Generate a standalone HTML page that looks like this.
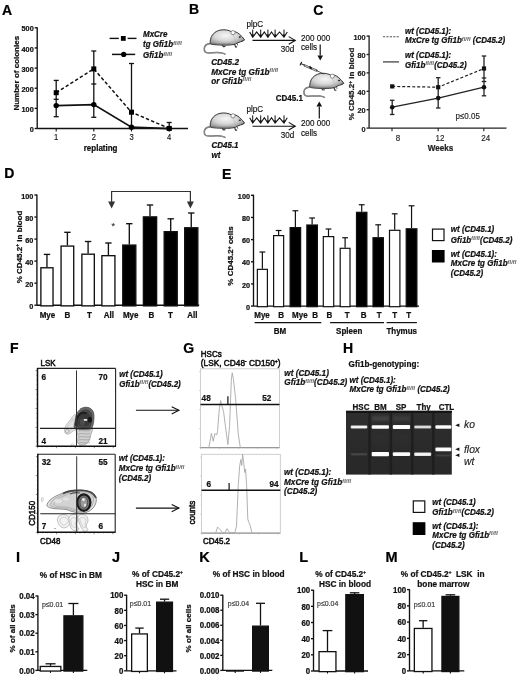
<!DOCTYPE html><html><head><meta charset="utf-8"><style>html,body{margin:0;padding:0;background:#fff;}svg{display:block;filter:blur(0.35px);}text{font-family:"Liberation Sans", sans-serif;}</style></head><body>
<svg width="520" height="678" viewBox="0 0 520 678">
<defs>
<radialGradient id="mg" cx="0.45" cy="0.38" r="0.65"><stop offset="0" stop-color="#f6f6f6"/><stop offset="0.5" stop-color="#d8d8d8"/><stop offset="1" stop-color="#8c8c8c"/></radialGradient>
<linearGradient id="gelg" x1="0" y1="0" x2="0" y2="1"><stop offset="0" stop-color="#2e2e2e"/><stop offset="1" stop-color="#282828"/></linearGradient>
<filter id="blur1" x="-20%" y="-150%" width="140%" height="400%"><feGaussianBlur stdDeviation="0.75"/></filter>
<filter id="blur2" x="-20%" y="-100%" width="140%" height="300%"><feGaussianBlur stdDeviation="1.2"/></filter>
<filter id="blur3"><feGaussianBlur stdDeviation="0.35"/></filter>
</defs>
<rect width="520" height="678" fill="#fff"/>
<text transform="translate(2.00,14.70) scale(1,1.0)" font-size="14" font-weight="bold" font-style="normal" text-anchor="start" fill="#000" stroke="#000" stroke-width="0.22" >A</text>
<text transform="translate(188.90,14.40) scale(1,1.0)" font-size="14" font-weight="bold" font-style="normal" text-anchor="start" fill="#000" stroke="#000" stroke-width="0.22" >B</text>
<text transform="translate(313.30,14.70) scale(1,1.0)" font-size="14" font-weight="bold" font-style="normal" text-anchor="start" fill="#000" stroke="#000" stroke-width="0.22" >C</text>
<text transform="translate(4.20,178.20) scale(1,1.0)" font-size="14" font-weight="bold" font-style="normal" text-anchor="start" fill="#000" stroke="#000" stroke-width="0.22" >D</text>
<text transform="translate(222.10,179.00) scale(1,1.0)" font-size="14" font-weight="bold" font-style="normal" text-anchor="start" fill="#000" stroke="#000" stroke-width="0.22" >E</text>
<text transform="translate(10.00,353.20) scale(1,1.0)" font-size="14" font-weight="bold" font-style="normal" text-anchor="start" fill="#000" stroke="#000" stroke-width="0.22" >F</text>
<text transform="translate(183.30,353.30) scale(1,1.0)" font-size="14" font-weight="bold" font-style="normal" text-anchor="start" fill="#000" stroke="#000" stroke-width="0.22" >G</text>
<text transform="translate(342.90,352.90) scale(1,1.0)" font-size="14" font-weight="bold" font-style="normal" text-anchor="start" fill="#000" stroke="#000" stroke-width="0.22" >H</text>
<text transform="translate(16.10,561.70) scale(1,1.0)" font-size="14.5" font-weight="bold" font-style="normal" text-anchor="start" fill="#000" stroke="#000" stroke-width="0.22" >I</text>
<text transform="translate(111.90,561.70) scale(1,1.0)" font-size="14.5" font-weight="bold" font-style="normal" text-anchor="start" fill="#000" stroke="#000" stroke-width="0.22" >J</text>
<text transform="translate(199.20,561.80) scale(1,1.0)" font-size="14.5" font-weight="bold" font-style="normal" text-anchor="start" fill="#000" stroke="#000" stroke-width="0.22" >K</text>
<text transform="translate(299.30,561.80) scale(1,1.0)" font-size="14.5" font-weight="bold" font-style="normal" text-anchor="start" fill="#000" stroke="#000" stroke-width="0.22" >L</text>
<text transform="translate(385.60,562.00) scale(1,1.0)" font-size="14.5" font-weight="bold" font-style="normal" text-anchor="start" fill="#000" stroke="#000" stroke-width="0.22" >M</text>
<line x1="37.20" y1="128.50" x2="37.20" y2="27.20" stroke="#111" stroke-width="1.35" />
<line x1="34.70" y1="128.50" x2="37.20" y2="128.50" stroke="#111" stroke-width="1.35" />
<text transform="translate(33.70,132.09) scale(1,1.1)" font-size="7.3" font-weight="bold" font-style="normal" text-anchor="end" fill="#111" stroke="#111" stroke-width="0.22" >0</text>
<line x1="34.70" y1="108.36" x2="37.20" y2="108.36" stroke="#111" stroke-width="1.35" />
<text transform="translate(33.70,111.95) scale(1,1.1)" font-size="7.3" font-weight="bold" font-style="normal" text-anchor="end" fill="#111" stroke="#111" stroke-width="0.22" >100</text>
<line x1="34.70" y1="88.22" x2="37.20" y2="88.22" stroke="#111" stroke-width="1.35" />
<text transform="translate(33.70,91.81) scale(1,1.1)" font-size="7.3" font-weight="bold" font-style="normal" text-anchor="end" fill="#111" stroke="#111" stroke-width="0.22" >200</text>
<line x1="34.70" y1="68.08" x2="37.20" y2="68.08" stroke="#111" stroke-width="1.35" />
<text transform="translate(33.70,71.67) scale(1,1.1)" font-size="7.3" font-weight="bold" font-style="normal" text-anchor="end" fill="#111" stroke="#111" stroke-width="0.22" >300</text>
<line x1="34.70" y1="47.94" x2="37.20" y2="47.94" stroke="#111" stroke-width="1.35" />
<text transform="translate(33.70,51.53) scale(1,1.1)" font-size="7.3" font-weight="bold" font-style="normal" text-anchor="end" fill="#111" stroke="#111" stroke-width="0.22" >400</text>
<line x1="34.70" y1="27.80" x2="37.20" y2="27.80" stroke="#111" stroke-width="1.35" />
<text transform="translate(33.70,31.39) scale(1,1.1)" font-size="7.3" font-weight="bold" font-style="normal" text-anchor="end" fill="#111" stroke="#111" stroke-width="0.22" >500</text>
<line x1="37.20" y1="128.50" x2="188.00" y2="128.50" stroke="#111" stroke-width="1.35" />
<line x1="56.20" y1="128.50" x2="56.20" y2="131.50" stroke="#111" stroke-width="1.1" />
<text transform="translate(56.20,139.60) scale(1,1.1)" font-size="7.6" font-weight="normal" font-style="normal" text-anchor="middle" fill="#111" stroke="#111" stroke-width="0.14" >1</text>
<line x1="93.80" y1="128.50" x2="93.80" y2="131.50" stroke="#111" stroke-width="1.1" />
<text transform="translate(93.80,139.60) scale(1,1.1)" font-size="7.6" font-weight="normal" font-style="normal" text-anchor="middle" fill="#111" stroke="#111" stroke-width="0.14" >2</text>
<line x1="131.50" y1="128.50" x2="131.50" y2="131.50" stroke="#111" stroke-width="1.1" />
<text transform="translate(131.50,139.60) scale(1,1.1)" font-size="7.6" font-weight="normal" font-style="normal" text-anchor="middle" fill="#111" stroke="#111" stroke-width="0.14" >3</text>
<line x1="169.20" y1="128.50" x2="169.20" y2="131.50" stroke="#111" stroke-width="1.1" />
<text transform="translate(169.20,139.60) scale(1,1.1)" font-size="7.6" font-weight="normal" font-style="normal" text-anchor="middle" fill="#111" stroke="#111" stroke-width="0.14" >4</text>
<text transform="translate(100.60,150.50) scale(1,1.1)" font-size="8" font-weight="bold" font-style="normal" text-anchor="middle" fill="#111" stroke="#111" stroke-width="0.22" >replating</text>
<text transform="translate(19.00,73.20) rotate(-90) scale(1,1.0)" x="0" y="0" font-size="8" font-weight="bold" font-style="normal" text-anchor="middle" fill="#111" stroke="#111" stroke-width="0.22">Number of colonies</text>
<line x1="56.20" y1="80.40" x2="56.20" y2="116.70" stroke="#111" stroke-width="1.3" />
<line x1="53.70" y1="80.40" x2="58.70" y2="80.40" stroke="#111" stroke-width="1.3" />
<line x1="53.70" y1="99.30" x2="58.70" y2="99.30" stroke="#111" stroke-width="1.3" />
<line x1="53.70" y1="116.70" x2="58.70" y2="116.70" stroke="#111" stroke-width="1.3" />
<line x1="93.80" y1="51.00" x2="93.80" y2="117.30" stroke="#111" stroke-width="1.3" />
<line x1="91.30" y1="51.00" x2="96.30" y2="51.00" stroke="#111" stroke-width="1.3" />
<line x1="91.30" y1="84.00" x2="96.30" y2="84.00" stroke="#111" stroke-width="1.3" />
<line x1="91.30" y1="117.30" x2="96.30" y2="117.30" stroke="#111" stroke-width="1.3" />
<line x1="131.50" y1="63.50" x2="131.50" y2="128.70" stroke="#111" stroke-width="1.3" />
<line x1="129.00" y1="63.50" x2="134.00" y2="63.50" stroke="#111" stroke-width="1.3" />
<line x1="169.20" y1="122.50" x2="169.20" y2="128.70" stroke="#111" stroke-width="1.3" />
<line x1="166.70" y1="122.50" x2="171.70" y2="122.50" stroke="#111" stroke-width="1.3" />
<path d="M56.2,92.7 L93.8,68.9 L131.5,112.2 L169.2,128.4" fill="none" stroke="#111" stroke-width="1.5" stroke-dasharray="3.4,2.2"/>
<rect x="53.70" y="90.20" width="5.00" height="5.00" fill="#000" stroke="none" stroke-width="0" />
<rect x="91.30" y="66.40" width="5.00" height="5.00" fill="#000" stroke="none" stroke-width="0" />
<rect x="129.00" y="109.70" width="5.00" height="5.00" fill="#000" stroke="none" stroke-width="0" />
<rect x="166.70" y="125.90" width="5.00" height="5.00" fill="#000" stroke="none" stroke-width="0" />
<path d="M56.2,105.6 L93.8,104.6 L131.5,127.2 L169.2,128.6" fill="none" stroke="#111" stroke-width="1.7" />
<circle cx="56.2" cy="105.6" r="2.7" fill="#000"/>
<circle cx="93.8" cy="104.6" r="2.7" fill="#000"/>
<circle cx="131.5" cy="127.2" r="2.7" fill="#000"/>
<circle cx="169.2" cy="128.6" r="2.7" fill="#000"/>
<line x1="109.60" y1="38.40" x2="118.80" y2="38.40" stroke="#111" stroke-width="1.4" />
<line x1="127.60" y1="38.40" x2="136.50" y2="38.40" stroke="#111" stroke-width="1.4" />
<rect x="120.90" y="36.00" width="4.80" height="4.80" fill="#000" stroke="none" stroke-width="0" />
<line x1="112.00" y1="54.40" x2="135.20" y2="54.40" stroke="#111" stroke-width="1.5" />
<circle cx="123.7" cy="54.4" r="2.6" fill="#000"/>
<text transform="translate(143.00,37.20) scale(1,1.1)" font-size="8" font-weight="bold" font-style="italic" text-anchor="start" fill="#111" stroke="#111" stroke-width="0.22" >MxCre</text>
<text transform="translate(143.00,47.00) scale(1,1.1)" font-size="8" font-weight="bold" font-style="italic" text-anchor="start" fill="#111" stroke="#111" stroke-width="0.22" >tg Gfi1b<tspan font-size="5.2" dy="-2.2" fill="#666" stroke="#777" stroke-width="0.15" letter-spacing="0.2">fl/fl</tspan></text>
<text transform="translate(143.00,58.20) scale(1,1.1)" font-size="8" font-weight="bold" font-style="italic" text-anchor="start" fill="#111" stroke="#111" stroke-width="0.22" >Gfi1b<tspan font-size="5.2" dy="-2.2" fill="#666" stroke="#777" stroke-width="0.15" letter-spacing="0.2">fl/fl</tspan></text>
<g transform="translate(200,22) scale(1.0)">
<path d="M10.6,21.6 C7,21.9 4.6,23.5 4.3,26.2 C4.1,29.2 5.4,30.9 8.3,30.9 C12,30.9 16.5,30.3 20.5,30.8 C22.6,31.1 24.2,31.6 25.5,32.4" fill="none" stroke="#5a5a5a" stroke-width="1.5"/>
<path d="M10.6,21.6 C7,21.9 4.6,23.5 4.3,26.2 C4.1,29.2 5.4,30.9 8.3,30.9 C12,30.9 16.5,30.3 20.5,30.8 C22.6,31.1 24.2,31.6 25.5,32.4" fill="none" stroke="#c8c8c8" stroke-width="0.5"/>
<path d="M10.2,21.5 C9.8,15.5 12.8,10.8 18.3,8.6 C21.5,7.5 26.2,7.4 29.6,8.8 L31.2,9.6 C34.2,8.9 37.2,10.1 39.6,12.3 C41.5,14 43.4,16 44.6,17.9 C43.6,18.9 42,19.4 40.4,19.8 C38.6,20.3 37,21.1 35.4,22.1 C32.8,22.9 28,23.3 23,23.1 C18,23 14.2,22.7 12.2,22.4 C11.1,22.1 10.5,21.9 10.2,21.5 Z" fill="url(#mg)" stroke="#262626" stroke-width="0.9"/>
<path d="M12,21.3 C16,22.4 24,22.6 31,22.0" fill="none" stroke="#777" stroke-width="1.6" opacity="0.6"/>
<path d="M11,18 C10.8,14 13,11 16,9.6" fill="none" stroke="#777" stroke-width="1.0" opacity="0.5"/>
<path d="M31.5,9.5 C33,12 34.5,16 35.6,21.5" fill="none" stroke="#aaa" stroke-width="0.6" opacity="0.7"/>
<circle cx="33" cy="10.6" r="2.1" fill="#fafafa" stroke="#555" stroke-width="0.6"/>
<ellipse cx="39.8" cy="15.1" rx="1.1" ry="0.8" fill="#222"/>
<path d="M22.2,23.2 l1.2,1.4 l2,-0.2" fill="none" stroke="#333" stroke-width="1.1"/>
<path d="M34.6,22.2 l0.9,2.7 l1.6,0" fill="none" stroke="#333" stroke-width="1.1"/>
<path d="M37.2,21.3 l0.6,2.2" fill="none" stroke="#444" stroke-width="0.8"/>
<path d="M43.9,18.5 l-2.2,0.2" stroke="#444" stroke-width="0.6"/>
</g>
<g transform="translate(200,105.2) scale(1.0)">
<path d="M10.6,21.6 C7,21.9 4.6,23.5 4.3,26.2 C4.1,29.2 5.4,30.9 8.3,30.9 C12,30.9 16.5,30.3 20.5,30.8 C22.6,31.1 24.2,31.6 25.5,32.4" fill="none" stroke="#5a5a5a" stroke-width="1.5"/>
<path d="M10.6,21.6 C7,21.9 4.6,23.5 4.3,26.2 C4.1,29.2 5.4,30.9 8.3,30.9 C12,30.9 16.5,30.3 20.5,30.8 C22.6,31.1 24.2,31.6 25.5,32.4" fill="none" stroke="#c8c8c8" stroke-width="0.5"/>
<path d="M10.2,21.5 C9.8,15.5 12.8,10.8 18.3,8.6 C21.5,7.5 26.2,7.4 29.6,8.8 L31.2,9.6 C34.2,8.9 37.2,10.1 39.6,12.3 C41.5,14 43.4,16 44.6,17.9 C43.6,18.9 42,19.4 40.4,19.8 C38.6,20.3 37,21.1 35.4,22.1 C32.8,22.9 28,23.3 23,23.1 C18,23 14.2,22.7 12.2,22.4 C11.1,22.1 10.5,21.9 10.2,21.5 Z" fill="url(#mg)" stroke="#262626" stroke-width="0.9"/>
<path d="M12,21.3 C16,22.4 24,22.6 31,22.0" fill="none" stroke="#777" stroke-width="1.6" opacity="0.6"/>
<path d="M11,18 C10.8,14 13,11 16,9.6" fill="none" stroke="#777" stroke-width="1.0" opacity="0.5"/>
<path d="M31.5,9.5 C33,12 34.5,16 35.6,21.5" fill="none" stroke="#aaa" stroke-width="0.6" opacity="0.7"/>
<circle cx="33" cy="10.6" r="2.1" fill="#fafafa" stroke="#555" stroke-width="0.6"/>
<ellipse cx="39.8" cy="15.1" rx="1.1" ry="0.8" fill="#222"/>
<path d="M22.2,23.2 l1.2,1.4 l2,-0.2" fill="none" stroke="#333" stroke-width="1.1"/>
<path d="M34.6,22.2 l0.9,2.7 l1.6,0" fill="none" stroke="#333" stroke-width="1.1"/>
<path d="M37.2,21.3 l0.6,2.2" fill="none" stroke="#444" stroke-width="0.8"/>
<path d="M43.9,18.5 l-2.2,0.2" stroke="#444" stroke-width="0.6"/>
</g>
<g transform="translate(299.7,65.6) scale(0.99)">
<path d="M10.6,21.6 C7,21.9 4.6,23.5 4.3,26.2 C4.1,29.2 5.4,30.9 8.3,30.9 C12,30.9 16.5,30.3 20.5,30.8 C22.6,31.1 24.2,31.6 25.5,32.4" fill="none" stroke="#5a5a5a" stroke-width="1.5"/>
<path d="M10.6,21.6 C7,21.9 4.6,23.5 4.3,26.2 C4.1,29.2 5.4,30.9 8.3,30.9 C12,30.9 16.5,30.3 20.5,30.8 C22.6,31.1 24.2,31.6 25.5,32.4" fill="none" stroke="#c8c8c8" stroke-width="0.5"/>
<path d="M10.2,21.5 C9.8,15.5 12.8,10.8 18.3,8.6 C21.5,7.5 26.2,7.4 29.6,8.8 L31.2,9.6 C34.2,8.9 37.2,10.1 39.6,12.3 C41.5,14 43.4,16 44.6,17.9 C43.6,18.9 42,19.4 40.4,19.8 C38.6,20.3 37,21.1 35.4,22.1 C32.8,22.9 28,23.3 23,23.1 C18,23 14.2,22.7 12.2,22.4 C11.1,22.1 10.5,21.9 10.2,21.5 Z" fill="url(#mg)" stroke="#262626" stroke-width="0.9"/>
<path d="M12,21.3 C16,22.4 24,22.6 31,22.0" fill="none" stroke="#777" stroke-width="1.6" opacity="0.6"/>
<path d="M11,18 C10.8,14 13,11 16,9.6" fill="none" stroke="#777" stroke-width="1.0" opacity="0.5"/>
<path d="M31.5,9.5 C33,12 34.5,16 35.6,21.5" fill="none" stroke="#aaa" stroke-width="0.6" opacity="0.7"/>
<circle cx="33" cy="10.6" r="2.1" fill="#fafafa" stroke="#555" stroke-width="0.6"/>
<ellipse cx="39.8" cy="15.1" rx="1.1" ry="0.8" fill="#222"/>
<path d="M22.2,23.2 l1.2,1.4 l2,-0.2" fill="none" stroke="#333" stroke-width="1.1"/>
<path d="M34.6,22.2 l0.9,2.7 l1.6,0" fill="none" stroke="#333" stroke-width="1.1"/>
<path d="M37.2,21.3 l0.6,2.2" fill="none" stroke="#444" stroke-width="0.8"/>
<path d="M43.9,18.5 l-2.2,0.2" stroke="#444" stroke-width="0.6"/>
</g>
<g stroke-linecap="round">
<line x1="300.80" y1="63.60" x2="305.00" y2="65.40" stroke="#222" stroke-width="1.0" />
<line x1="301.60" y1="62.20" x2="300.20" y2="65.00" stroke="#222" stroke-width="1.1" />
<line x1="304.60" y1="65.40" x2="316.50" y2="70.60" stroke="#444" stroke-width="2.2" />
<line x1="305.20" y1="65.70" x2="315.90" y2="70.30" stroke="#ddd" stroke-width="0.9" />
<line x1="310.00" y1="67.00" x2="311.00" y2="68.20" stroke="#111" stroke-width="1.8" />
<line x1="316.50" y1="70.60" x2="323.80" y2="73.90" stroke="#333" stroke-width="0.8" />
</g>
<text transform="translate(211.20,64.80) scale(1,1.1)" font-size="8.2" font-weight="bold" font-style="italic" text-anchor="start" fill="#111" stroke="#111" stroke-width="0.22" >CD45.2</text>
<text transform="translate(211.20,74.60) scale(1,1.1)" font-size="8.2" font-weight="bold" font-style="italic" text-anchor="start" fill="#111" stroke="#111" stroke-width="0.22" >MxCre tg Gfi1b<tspan font-size="5.2" dy="-2.2" fill="#666" stroke="#777" stroke-width="0.15" letter-spacing="0.2">fl/fl</tspan></text>
<text transform="translate(211.20,83.70) scale(1,1.1)" font-size="8.2" font-weight="bold" font-style="italic" text-anchor="start" fill="#111" stroke="#111" stroke-width="0.22" >or Gfi1b<tspan font-size="5.2" dy="-2.2" fill="#666" stroke="#777" stroke-width="0.15" letter-spacing="0.2">fl/fl</tspan></text>
<text transform="translate(211.50,147.70) scale(1,1.1)" font-size="8" font-weight="bold" font-style="italic" text-anchor="start" fill="#111" stroke="#111" stroke-width="0.22" >CD45.1</text>
<text transform="translate(211.50,157.80) scale(1,1.1)" font-size="8" font-weight="bold" font-style="italic" text-anchor="start" fill="#111" stroke="#111" stroke-width="0.22" >wt</text>
<text transform="translate(246.40,26.60) scale(1,1.1)" font-size="8.1" font-weight="normal" font-style="normal" text-anchor="start" fill="#111" stroke="#111" stroke-width="0.14" >plpC</text>
<line x1="252.70" y1="29.60" x2="252.70" y2="36.20" stroke="#111" stroke-width="1.0" />
<path d="M251.20,34.60 L252.70,37.20 L254.20,34.60 Z" fill="#111" stroke="none" stroke-width="0" />
<line x1="260.70" y1="29.60" x2="260.70" y2="36.20" stroke="#111" stroke-width="1.0" />
<path d="M259.20,34.60 L260.70,37.20 L262.20,34.60 Z" fill="#111" stroke="none" stroke-width="0" />
<line x1="267.90" y1="29.60" x2="267.90" y2="36.20" stroke="#111" stroke-width="1.0" />
<path d="M266.40,34.60 L267.90,37.20 L269.40,34.60 Z" fill="#111" stroke="none" stroke-width="0" />
<line x1="275.10" y1="29.60" x2="275.10" y2="36.20" stroke="#111" stroke-width="1.0" />
<path d="M273.60,34.60 L275.10,37.20 L276.60,34.60 Z" fill="#111" stroke="none" stroke-width="0" />
<line x1="284.00" y1="29.60" x2="284.00" y2="36.20" stroke="#111" stroke-width="1.0" />
<path d="M282.50,34.60 L284.00,37.20 L285.50,34.60 Z" fill="#111" stroke="none" stroke-width="0" />
<path d="M249.70,32.00 L252.70,37.20 L256.70,32.00 L260.70,37.20 L264.30,32.00 L267.90,37.20 L271.50,32.00 L275.10,37.20 L279.55,32.00 L284.00,37.20 L287.30,32.00" fill="none" stroke="#111" stroke-width="1.1" stroke-linejoin="miter"/>
<line x1="252.50" y1="40.40" x2="295.20" y2="40.40" stroke="#111" stroke-width="1.1" />
<path d="M288.70,36.60 L295.20,40.40 L288.70,44.20" fill="none" stroke="#111" stroke-width="1.1" />
<text transform="translate(280.80,52.20) scale(1,1.12)" font-size="8.1" font-weight="normal" font-style="normal" text-anchor="start" fill="#111" stroke="#111" stroke-width="0.14" >30d</text>
<text transform="translate(301.00,40.60) scale(1,1.15)" font-size="8.1" font-weight="normal" font-style="normal" text-anchor="start" fill="#111" stroke="#111" stroke-width="0.14" >200 000</text>
<text transform="translate(301.00,50.40) scale(1,1.12)" font-size="8.1" font-weight="normal" font-style="normal" text-anchor="start" fill="#111" stroke="#111" stroke-width="0.14" >cells</text>
<text transform="translate(246.40,112.40) scale(1,1.1)" font-size="8.1" font-weight="normal" font-style="normal" text-anchor="start" fill="#111" stroke="#111" stroke-width="0.14" >plpC</text>
<line x1="252.70" y1="115.40" x2="252.70" y2="122.00" stroke="#111" stroke-width="1.0" />
<path d="M251.20,120.40 L252.70,123.00 L254.20,120.40 Z" fill="#111" stroke="none" stroke-width="0" />
<line x1="260.70" y1="115.40" x2="260.70" y2="122.00" stroke="#111" stroke-width="1.0" />
<path d="M259.20,120.40 L260.70,123.00 L262.20,120.40 Z" fill="#111" stroke="none" stroke-width="0" />
<line x1="267.90" y1="115.40" x2="267.90" y2="122.00" stroke="#111" stroke-width="1.0" />
<path d="M266.40,120.40 L267.90,123.00 L269.40,120.40 Z" fill="#111" stroke="none" stroke-width="0" />
<line x1="275.10" y1="115.40" x2="275.10" y2="122.00" stroke="#111" stroke-width="1.0" />
<path d="M273.60,120.40 L275.10,123.00 L276.60,120.40 Z" fill="#111" stroke="none" stroke-width="0" />
<line x1="284.00" y1="115.40" x2="284.00" y2="122.00" stroke="#111" stroke-width="1.0" />
<path d="M282.50,120.40 L284.00,123.00 L285.50,120.40 Z" fill="#111" stroke="none" stroke-width="0" />
<path d="M249.70,117.80 L252.70,123.00 L256.70,117.80 L260.70,123.00 L264.30,117.80 L267.90,123.00 L271.50,117.80 L275.10,123.00 L279.55,117.80 L284.00,123.00 L287.30,117.80" fill="none" stroke="#111" stroke-width="1.1" stroke-linejoin="miter"/>
<line x1="252.50" y1="126.20" x2="295.20" y2="126.20" stroke="#111" stroke-width="1.1" />
<path d="M288.70,122.40 L295.20,126.20 L288.70,130.00" fill="none" stroke="#111" stroke-width="1.1" />
<text transform="translate(280.80,138.00) scale(1,1.12)" font-size="8.1" font-weight="normal" font-style="normal" text-anchor="start" fill="#111" stroke="#111" stroke-width="0.14" >30d</text>
<text transform="translate(301.00,126.40) scale(1,1.15)" font-size="8.1" font-weight="normal" font-style="normal" text-anchor="start" fill="#111" stroke="#111" stroke-width="0.14" >200 000</text>
<text transform="translate(301.00,136.20) scale(1,1.12)" font-size="8.1" font-weight="normal" font-style="normal" text-anchor="start" fill="#111" stroke="#111" stroke-width="0.14" >cells</text>
<line x1="320.20" y1="44.60" x2="320.20" y2="55.60" stroke="#111" stroke-width="1.2" />
<path d="M317.40,55.60 L320.20,60.60 L323.00,55.60 Z" fill="#111" stroke="none" stroke-width="0" />
<line x1="319.30" y1="118.60" x2="319.30" y2="106.40" stroke="#111" stroke-width="1.2" />
<path d="M316.50,106.40 L319.30,101.40 L322.10,106.40 Z" fill="#111" stroke="none" stroke-width="0" />
<text transform="translate(275.80,100.60) scale(1,1.1)" font-size="8" font-weight="bold" font-style="normal" text-anchor="start" fill="#111" stroke="#111" stroke-width="0.22" >CD45.1</text>
<line x1="369.10" y1="128.10" x2="369.10" y2="35.50" stroke="#222" stroke-width="1.35" />
<line x1="366.60" y1="128.10" x2="369.10" y2="128.10" stroke="#222" stroke-width="1.35" />
<text transform="translate(365.60,131.69) scale(1,1.1)" font-size="7.3" font-weight="bold" font-style="normal" text-anchor="end" fill="#222" stroke="#222" stroke-width="0.22" >0</text>
<line x1="366.60" y1="109.70" x2="369.10" y2="109.70" stroke="#222" stroke-width="1.35" />
<text transform="translate(365.60,113.29) scale(1,1.1)" font-size="7.3" font-weight="bold" font-style="normal" text-anchor="end" fill="#222" stroke="#222" stroke-width="0.22" >20</text>
<line x1="366.60" y1="91.30" x2="369.10" y2="91.30" stroke="#222" stroke-width="1.35" />
<text transform="translate(365.60,94.89) scale(1,1.1)" font-size="7.3" font-weight="bold" font-style="normal" text-anchor="end" fill="#222" stroke="#222" stroke-width="0.22" >40</text>
<line x1="366.60" y1="72.90" x2="369.10" y2="72.90" stroke="#222" stroke-width="1.35" />
<text transform="translate(365.60,76.49) scale(1,1.1)" font-size="7.3" font-weight="bold" font-style="normal" text-anchor="end" fill="#222" stroke="#222" stroke-width="0.22" >60</text>
<line x1="366.60" y1="54.50" x2="369.10" y2="54.50" stroke="#222" stroke-width="1.35" />
<text transform="translate(365.60,58.09) scale(1,1.1)" font-size="7.3" font-weight="bold" font-style="normal" text-anchor="end" fill="#222" stroke="#222" stroke-width="0.22" >80</text>
<line x1="366.60" y1="36.10" x2="369.10" y2="36.10" stroke="#222" stroke-width="1.35" />
<text transform="translate(365.60,39.69) scale(1,1.1)" font-size="7.3" font-weight="bold" font-style="normal" text-anchor="end" fill="#222" stroke="#222" stroke-width="0.22" >100</text>
<line x1="369.10" y1="128.10" x2="506.50" y2="128.10" stroke="#222" stroke-width="1.35" />
<line x1="392.00" y1="128.10" x2="392.00" y2="131.20" stroke="#222" stroke-width="1.1" />
<text transform="translate(397.90,141.30) scale(1,1.05)" font-size="8" font-weight="normal" font-style="normal" text-anchor="middle" fill="#222" stroke="#222" stroke-width="0.14" >8</text>
<line x1="438.20" y1="128.10" x2="438.20" y2="131.20" stroke="#222" stroke-width="1.1" />
<text transform="translate(440.00,141.30) scale(1,1.05)" font-size="8" font-weight="normal" font-style="normal" text-anchor="middle" fill="#222" stroke="#222" stroke-width="0.14" >12</text>
<line x1="483.80" y1="128.10" x2="483.80" y2="131.20" stroke="#222" stroke-width="1.1" />
<text transform="translate(485.70,141.30) scale(1,1.05)" font-size="8" font-weight="normal" font-style="normal" text-anchor="middle" fill="#222" stroke="#222" stroke-width="0.14" >24</text>
<text transform="translate(440.40,150.60) scale(1,1.1)" font-size="8.1" font-weight="bold" font-style="normal" text-anchor="middle" fill="#222" stroke="#222" stroke-width="0.22" >Weeks</text>
<text transform="translate(354.3,83.9) rotate(-90) scale(1,1.0)" font-size="8" font-weight="bold" text-anchor="middle" fill="#222" stroke="#222" stroke-width="0.22">% CD45.2<tspan font-size="5" dy="-2.6">+</tspan><tspan dy="2.6"> in blood</tspan></text>
<line x1="392.20" y1="100.30" x2="392.20" y2="114.50" stroke="#222" stroke-width="1.3" />
<line x1="389.95" y1="100.30" x2="394.45" y2="100.30" stroke="#222" stroke-width="1.3" />
<line x1="389.95" y1="114.50" x2="394.45" y2="114.50" stroke="#222" stroke-width="1.3" />
<line x1="438.20" y1="77.70" x2="438.20" y2="108.00" stroke="#222" stroke-width="1.3" />
<line x1="435.95" y1="77.70" x2="440.45" y2="77.70" stroke="#222" stroke-width="1.3" />
<line x1="435.95" y1="108.00" x2="440.45" y2="108.00" stroke="#222" stroke-width="1.3" />
<line x1="484.00" y1="56.00" x2="484.00" y2="95.80" stroke="#222" stroke-width="1.3" />
<line x1="481.75" y1="56.00" x2="486.25" y2="56.00" stroke="#222" stroke-width="1.3" />
<line x1="481.75" y1="78.00" x2="486.25" y2="78.00" stroke="#222" stroke-width="1.3" />
<line x1="481.75" y1="81.50" x2="486.25" y2="81.50" stroke="#222" stroke-width="1.3" />
<line x1="481.75" y1="95.80" x2="486.25" y2="95.80" stroke="#222" stroke-width="1.3" />
<path d="M392.2,86.4 L438.2,87.2 L484.0,68.5" fill="none" stroke="#222" stroke-width="1.2" stroke-dasharray="3,2"/>
<rect x="390.10" y="84.30" width="4.20" height="4.20" fill="#111" stroke="none" stroke-width="0" />
<rect x="436.10" y="85.10" width="4.20" height="4.20" fill="#111" stroke="none" stroke-width="0" />
<rect x="481.90" y="66.40" width="4.20" height="4.20" fill="#111" stroke="none" stroke-width="0" />
<path d="M392.2,107.2 L438.2,98.1 L484.0,87.2" fill="none" stroke="#222" stroke-width="1.3" />
<circle cx="392.2" cy="107.2" r="2.3" fill="#111"/>
<circle cx="438.2" cy="98.1" r="2.3" fill="#111"/>
<circle cx="484.0" cy="87.2" r="2.3" fill="#111"/>
<text transform="translate(455.50,119.20) scale(1,1.1)" font-size="8" font-weight="normal" font-style="normal" text-anchor="start" fill="#222" stroke="#222" stroke-width="0.14" >p≤0.05</text>
<line x1="383.00" y1="36.70" x2="399.00" y2="36.70" stroke="#555" stroke-width="1.1" stroke-dasharray="2.2,1.2"/>
<line x1="383.00" y1="61.90" x2="399.00" y2="61.90" stroke="#444" stroke-width="1.3" />
<text transform="translate(405.00,33.80) scale(1,1.1)" font-size="8" font-weight="bold" font-style="italic" text-anchor="start" fill="#111" stroke="#111" stroke-width="0.22" >wt (CD45.1):</text>
<text transform="translate(405.00,43.40) scale(1,1.1)" font-size="8" font-weight="bold" font-style="italic" text-anchor="start" fill="#111" stroke="#111" stroke-width="0.22" >MxCre tg Gfi1b<tspan font-size="5.2" dy="-2.2" fill="#666" stroke="#777" stroke-width="0.15" letter-spacing="0.2">fl/fl</tspan><tspan dy="2.2"> (CD45.2)</tspan></text>
<text transform="translate(405.00,58.00) scale(1,1.1)" font-size="8" font-weight="bold" font-style="italic" text-anchor="start" fill="#111" stroke="#111" stroke-width="0.22" >wt (CD45.1):</text>
<text transform="translate(405.00,67.60) scale(1,1.1)" font-size="8" font-weight="bold" font-style="italic" text-anchor="start" fill="#111" stroke="#111" stroke-width="0.22" >Gfi1b<tspan font-size="5.2" dy="-2.2" fill="#666" stroke="#777" stroke-width="0.15" letter-spacing="0.2">fl/fl</tspan><tspan dy="2.2">(CD45.2)</tspan></text>
<line x1="36.90" y1="305.20" x2="36.90" y2="194.40" stroke="#111" stroke-width="1.35" />
<line x1="34.40" y1="305.20" x2="36.90" y2="305.20" stroke="#111" stroke-width="1.35" />
<text transform="translate(33.40,308.79) scale(1,1.1)" font-size="7.3" font-weight="bold" font-style="normal" text-anchor="end" fill="#111" stroke="#111" stroke-width="0.22" >0</text>
<line x1="34.40" y1="283.16" x2="36.90" y2="283.16" stroke="#111" stroke-width="1.35" />
<text transform="translate(33.40,286.75) scale(1,1.1)" font-size="7.3" font-weight="bold" font-style="normal" text-anchor="end" fill="#111" stroke="#111" stroke-width="0.22" >20</text>
<line x1="34.40" y1="261.12" x2="36.90" y2="261.12" stroke="#111" stroke-width="1.35" />
<text transform="translate(33.40,264.71) scale(1,1.1)" font-size="7.3" font-weight="bold" font-style="normal" text-anchor="end" fill="#111" stroke="#111" stroke-width="0.22" >40</text>
<line x1="34.40" y1="239.08" x2="36.90" y2="239.08" stroke="#111" stroke-width="1.35" />
<text transform="translate(33.40,242.67) scale(1,1.1)" font-size="7.3" font-weight="bold" font-style="normal" text-anchor="end" fill="#111" stroke="#111" stroke-width="0.22" >60</text>
<line x1="34.40" y1="217.04" x2="36.90" y2="217.04" stroke="#111" stroke-width="1.35" />
<text transform="translate(33.40,220.63) scale(1,1.1)" font-size="7.3" font-weight="bold" font-style="normal" text-anchor="end" fill="#111" stroke="#111" stroke-width="0.22" >80</text>
<line x1="34.40" y1="195.00" x2="36.90" y2="195.00" stroke="#111" stroke-width="1.35" />
<text transform="translate(33.40,198.59) scale(1,1.1)" font-size="7.3" font-weight="bold" font-style="normal" text-anchor="end" fill="#111" stroke="#111" stroke-width="0.22" >100</text>
<line x1="36.90" y1="305.20" x2="199.20" y2="305.20" stroke="#111" stroke-width="1.35" />
<line x1="46.95" y1="254.40" x2="46.95" y2="267.10" stroke="#111" stroke-width="1.35" />
<line x1="43.75" y1="254.40" x2="50.15" y2="254.40" stroke="#111" stroke-width="1.35" />
<rect x="40.88" y="267.78" width="12.15" height="38.10" fill="#fff" stroke="#111" stroke-width="1.35" />
<line x1="67.40" y1="232.30" x2="67.40" y2="245.40" stroke="#111" stroke-width="1.35" />
<line x1="64.20" y1="232.30" x2="70.60" y2="232.30" stroke="#111" stroke-width="1.35" />
<rect x="61.07" y="246.08" width="12.65" height="59.80" fill="#fff" stroke="#111" stroke-width="1.35" />
<line x1="88.10" y1="241.50" x2="88.10" y2="253.50" stroke="#111" stroke-width="1.35" />
<line x1="84.90" y1="241.50" x2="91.30" y2="241.50" stroke="#111" stroke-width="1.35" />
<rect x="81.88" y="254.18" width="12.45" height="51.70" fill="#fff" stroke="#111" stroke-width="1.35" />
<line x1="108.40" y1="243.00" x2="108.40" y2="255.00" stroke="#111" stroke-width="1.35" />
<line x1="105.20" y1="243.00" x2="111.60" y2="243.00" stroke="#111" stroke-width="1.35" />
<rect x="101.88" y="255.68" width="13.05" height="50.20" fill="#fff" stroke="#111" stroke-width="1.35" />
<line x1="129.30" y1="223.70" x2="129.30" y2="244.40" stroke="#111" stroke-width="1.35" />
<line x1="126.10" y1="223.70" x2="132.50" y2="223.70" stroke="#111" stroke-width="1.35" />
<rect x="122.77" y="245.08" width="13.05" height="60.80" fill="#000" stroke="#111" stroke-width="1.35" />
<line x1="150.00" y1="205.00" x2="150.00" y2="216.20" stroke="#111" stroke-width="1.35" />
<line x1="146.80" y1="205.00" x2="153.20" y2="205.00" stroke="#111" stroke-width="1.35" />
<rect x="143.38" y="216.88" width="13.25" height="89.00" fill="#000" stroke="#111" stroke-width="1.35" />
<line x1="170.70" y1="218.80" x2="170.70" y2="231.00" stroke="#111" stroke-width="1.35" />
<line x1="167.50" y1="218.80" x2="173.90" y2="218.80" stroke="#111" stroke-width="1.35" />
<rect x="164.18" y="231.68" width="13.05" height="74.20" fill="#000" stroke="#111" stroke-width="1.35" />
<line x1="191.25" y1="213.00" x2="191.25" y2="227.10" stroke="#111" stroke-width="1.35" />
<line x1="188.05" y1="213.00" x2="194.45" y2="213.00" stroke="#111" stroke-width="1.35" />
<rect x="184.68" y="227.78" width="13.15" height="78.10" fill="#000" stroke="#111" stroke-width="1.35" />
<text transform="translate(47.40,318.20) scale(1,1.12)" font-size="8" font-weight="bold" font-style="normal" text-anchor="middle" fill="#111" stroke="#111" stroke-width="0.22" >Mye</text>
<text transform="translate(67.50,318.20) scale(1,1.12)" font-size="8" font-weight="bold" font-style="normal" text-anchor="middle" fill="#111" stroke="#111" stroke-width="0.22" >B</text>
<text transform="translate(89.40,318.20) scale(1,1.12)" font-size="8" font-weight="bold" font-style="normal" text-anchor="middle" fill="#111" stroke="#111" stroke-width="0.22" >T</text>
<text transform="translate(108.80,318.20) scale(1,1.12)" font-size="8" font-weight="bold" font-style="normal" text-anchor="middle" fill="#111" stroke="#111" stroke-width="0.22" >All</text>
<text transform="translate(130.70,318.20) scale(1,1.12)" font-size="8" font-weight="bold" font-style="normal" text-anchor="middle" fill="#111" stroke="#111" stroke-width="0.22" >Mye</text>
<text transform="translate(151.50,318.20) scale(1,1.12)" font-size="8" font-weight="bold" font-style="normal" text-anchor="middle" fill="#111" stroke="#111" stroke-width="0.22" >B</text>
<text transform="translate(170.50,318.20) scale(1,1.12)" font-size="8" font-weight="bold" font-style="normal" text-anchor="middle" fill="#111" stroke="#111" stroke-width="0.22" >T</text>
<text transform="translate(192.40,318.20) scale(1,1.12)" font-size="8" font-weight="bold" font-style="normal" text-anchor="middle" fill="#111" stroke="#111" stroke-width="0.22" >All</text>
<text transform="translate(21.5,246.9) rotate(-90) scale(1,1.0)" font-size="8" font-weight="bold" text-anchor="middle" fill="#111" stroke="#111" stroke-width="0.22">% CD45.2<tspan font-size="5" dy="-2.6">+</tspan><tspan dy="2.6"> in blood</tspan></text>
<path d="M111.6,203 L111.6,191.5 L190.4,191.5 L190.4,203" fill="none" stroke="#333" stroke-width="1.2" />
<path d="M108.10,201.6 L111.60,208.4 L115.10,201.6 Z" fill="#333" stroke="none" stroke-width="0" />
<path d="M186.90,201.6 L190.40,208.4 L193.90,201.6 Z" fill="#333" stroke="none" stroke-width="0" />
<text transform="translate(113.20,228.60) scale(1,1.0)" font-size="9" font-weight="normal" font-style="normal" text-anchor="middle" fill="#333" stroke="#333" stroke-width="0.14" >*</text>
<line x1="253.50" y1="306.10" x2="253.50" y2="194.70" stroke="#111" stroke-width="1.35" />
<line x1="251.00" y1="306.10" x2="253.50" y2="306.10" stroke="#111" stroke-width="1.35" />
<text transform="translate(250.00,309.69) scale(1,1.1)" font-size="7.3" font-weight="bold" font-style="normal" text-anchor="end" fill="#111" stroke="#111" stroke-width="0.22" >0</text>
<line x1="251.00" y1="283.94" x2="253.50" y2="283.94" stroke="#111" stroke-width="1.35" />
<text transform="translate(250.00,287.53) scale(1,1.1)" font-size="7.3" font-weight="bold" font-style="normal" text-anchor="end" fill="#111" stroke="#111" stroke-width="0.22" >20</text>
<line x1="251.00" y1="261.78" x2="253.50" y2="261.78" stroke="#111" stroke-width="1.35" />
<text transform="translate(250.00,265.37) scale(1,1.1)" font-size="7.3" font-weight="bold" font-style="normal" text-anchor="end" fill="#111" stroke="#111" stroke-width="0.22" >40</text>
<line x1="251.00" y1="239.62" x2="253.50" y2="239.62" stroke="#111" stroke-width="1.35" />
<text transform="translate(250.00,243.21) scale(1,1.1)" font-size="7.3" font-weight="bold" font-style="normal" text-anchor="end" fill="#111" stroke="#111" stroke-width="0.22" >60</text>
<line x1="251.00" y1="217.46" x2="253.50" y2="217.46" stroke="#111" stroke-width="1.35" />
<text transform="translate(250.00,221.05) scale(1,1.1)" font-size="7.3" font-weight="bold" font-style="normal" text-anchor="end" fill="#111" stroke="#111" stroke-width="0.22" >80</text>
<line x1="251.00" y1="195.30" x2="253.50" y2="195.30" stroke="#111" stroke-width="1.35" />
<text transform="translate(250.00,198.89) scale(1,1.1)" font-size="7.3" font-weight="bold" font-style="normal" text-anchor="end" fill="#111" stroke="#111" stroke-width="0.22" >100</text>
<line x1="253.50" y1="306.10" x2="419.00" y2="306.10" stroke="#111" stroke-width="1.35" />
<line x1="262.38" y1="252.00" x2="262.38" y2="268.75" stroke="#111" stroke-width="1.2" />
<line x1="259.48" y1="252.00" x2="265.27" y2="252.00" stroke="#111" stroke-width="1.2" />
<rect x="257.35" y="269.35" width="10.05" height="37.35" fill="#fff" stroke="#111" stroke-width="1.2" />
<line x1="278.62" y1="230.50" x2="278.62" y2="235.00" stroke="#111" stroke-width="1.2" />
<line x1="275.73" y1="230.50" x2="281.52" y2="230.50" stroke="#111" stroke-width="1.2" />
<rect x="273.60" y="235.60" width="10.05" height="71.10" fill="#fff" stroke="#111" stroke-width="1.2" />
<line x1="295.38" y1="210.75" x2="295.38" y2="227.00" stroke="#111" stroke-width="1.2" />
<line x1="292.48" y1="210.75" x2="298.27" y2="210.75" stroke="#111" stroke-width="1.2" />
<rect x="290.10" y="227.60" width="10.55" height="79.10" fill="#000" stroke="#111" stroke-width="1.2" />
<line x1="312.12" y1="218.00" x2="312.12" y2="224.40" stroke="#111" stroke-width="1.2" />
<line x1="309.23" y1="218.00" x2="315.02" y2="218.00" stroke="#111" stroke-width="1.2" />
<rect x="306.85" y="225.00" width="10.55" height="81.70" fill="#000" stroke="#111" stroke-width="1.2" />
<line x1="328.50" y1="229.00" x2="328.50" y2="236.00" stroke="#111" stroke-width="1.2" />
<line x1="325.60" y1="229.00" x2="331.40" y2="229.00" stroke="#111" stroke-width="1.2" />
<rect x="323.30" y="236.60" width="10.40" height="70.10" fill="#fff" stroke="#111" stroke-width="1.2" />
<line x1="345.10" y1="237.75" x2="345.10" y2="247.70" stroke="#111" stroke-width="1.2" />
<line x1="342.20" y1="237.75" x2="348.00" y2="237.75" stroke="#111" stroke-width="1.2" />
<rect x="340.20" y="248.30" width="9.80" height="58.40" fill="#fff" stroke="#111" stroke-width="1.2" />
<line x1="361.70" y1="204.75" x2="361.70" y2="211.70" stroke="#111" stroke-width="1.2" />
<line x1="358.80" y1="204.75" x2="364.60" y2="204.75" stroke="#111" stroke-width="1.2" />
<rect x="356.50" y="212.30" width="10.40" height="94.40" fill="#000" stroke="#111" stroke-width="1.2" />
<line x1="378.20" y1="224.80" x2="378.20" y2="237.10" stroke="#111" stroke-width="1.2" />
<line x1="375.30" y1="224.80" x2="381.10" y2="224.80" stroke="#111" stroke-width="1.2" />
<rect x="373.00" y="237.70" width="10.40" height="69.00" fill="#000" stroke="#111" stroke-width="1.2" />
<line x1="394.70" y1="213.80" x2="394.70" y2="229.70" stroke="#111" stroke-width="1.2" />
<line x1="391.80" y1="213.80" x2="397.60" y2="213.80" stroke="#111" stroke-width="1.2" />
<rect x="389.50" y="230.30" width="10.40" height="76.40" fill="#fff" stroke="#111" stroke-width="1.2" />
<line x1="411.55" y1="205.80" x2="411.55" y2="228.20" stroke="#111" stroke-width="1.2" />
<line x1="408.65" y1="205.80" x2="414.45" y2="205.80" stroke="#111" stroke-width="1.2" />
<rect x="406.20" y="228.80" width="10.70" height="77.90" fill="#000" stroke="#111" stroke-width="1.2" />
<text transform="translate(262.00,318.20) scale(1,1.12)" font-size="8" font-weight="bold" font-style="normal" text-anchor="middle" fill="#111" stroke="#111" stroke-width="0.22" >Mye</text>
<text transform="translate(281.10,318.20) scale(1,1.12)" font-size="8" font-weight="bold" font-style="normal" text-anchor="middle" fill="#111" stroke="#111" stroke-width="0.22" >B</text>
<text transform="translate(299.80,318.20) scale(1,1.12)" font-size="8" font-weight="bold" font-style="normal" text-anchor="middle" fill="#111" stroke="#111" stroke-width="0.22" >Mye</text>
<text transform="translate(315.20,318.20) scale(1,1.12)" font-size="8" font-weight="bold" font-style="normal" text-anchor="middle" fill="#111" stroke="#111" stroke-width="0.22" >B</text>
<text transform="translate(329.30,318.20) scale(1,1.12)" font-size="8" font-weight="bold" font-style="normal" text-anchor="middle" fill="#111" stroke="#111" stroke-width="0.22" >B</text>
<text transform="translate(347.30,318.20) scale(1,1.12)" font-size="8" font-weight="bold" font-style="normal" text-anchor="middle" fill="#111" stroke="#111" stroke-width="0.22" >T</text>
<text transform="translate(363.60,318.20) scale(1,1.12)" font-size="8" font-weight="bold" font-style="normal" text-anchor="middle" fill="#111" stroke="#111" stroke-width="0.22" >B</text>
<text transform="translate(379.10,318.20) scale(1,1.12)" font-size="8" font-weight="bold" font-style="normal" text-anchor="middle" fill="#111" stroke="#111" stroke-width="0.22" >T</text>
<text transform="translate(394.70,318.20) scale(1,1.12)" font-size="8" font-weight="bold" font-style="normal" text-anchor="middle" fill="#111" stroke="#111" stroke-width="0.22" >T</text>
<text transform="translate(408.70,318.20) scale(1,1.12)" font-size="8" font-weight="bold" font-style="normal" text-anchor="middle" fill="#111" stroke="#111" stroke-width="0.22" >T</text>
<line x1="254.60" y1="322.60" x2="321.30" y2="322.60" stroke="#111" stroke-width="1.2" />
<line x1="330.10" y1="322.60" x2="384.00" y2="322.60" stroke="#111" stroke-width="1.2" />
<line x1="386.60" y1="322.60" x2="416.90" y2="322.60" stroke="#111" stroke-width="1.2" />
<text transform="translate(279.90,334.30) scale(1,1.1)" font-size="8" font-weight="bold" font-style="normal" text-anchor="middle" fill="#111" stroke="#111" stroke-width="0.22" >BM</text>
<text transform="translate(349.20,334.30) scale(1,1.1)" font-size="8" font-weight="bold" font-style="normal" text-anchor="middle" fill="#111" stroke="#111" stroke-width="0.22" >Spleen</text>
<text transform="translate(401.70,334.30) scale(1,1.1)" font-size="8" font-weight="bold" font-style="normal" text-anchor="middle" fill="#111" stroke="#111" stroke-width="0.22" >Thymus</text>
<text transform="translate(233.4,256) rotate(-90) scale(1,1.0)" font-size="8" font-weight="bold" text-anchor="middle" fill="#111" stroke="#111" stroke-width="0.22">% CD45.2<tspan font-size="5" dy="-2.6">+</tspan><tspan dy="2.6"> cells</tspan></text>
<rect x="432.50" y="229.10" width="11.50" height="11.50" fill="#fff" stroke="#111" stroke-width="1.2" />
<rect x="431.90" y="250.00" width="12.70" height="12.50" fill="#000" stroke="none" stroke-width="0" />
<text transform="translate(450.80,232.40) scale(1,1.1)" font-size="8" font-weight="bold" font-style="italic" text-anchor="start" fill="#111" stroke="#111" stroke-width="0.22" >wt (CD45.1)</text>
<text transform="translate(450.80,242.80) scale(1,1.1)" font-size="8" font-weight="bold" font-style="italic" text-anchor="start" fill="#111" stroke="#111" stroke-width="0.22" >Gfi1b<tspan font-size="5.2" dy="-2.2" fill="#666" stroke="#777" stroke-width="0.15" letter-spacing="0.2">fl/fl</tspan><tspan dy="2.2">(CD45.2)</tspan></text>
<text transform="translate(450.80,256.80) scale(1,1.1)" font-size="8" font-weight="bold" font-style="italic" text-anchor="start" fill="#111" stroke="#111" stroke-width="0.22" >wt (CD45.1):</text>
<text transform="translate(450.80,266.40) scale(1,1.1)" font-size="8" font-weight="bold" font-style="italic" text-anchor="start" fill="#111" stroke="#111" stroke-width="0.22" >MxCre tg Gfi1b<tspan font-size="5.2" dy="-2.2" fill="#666" stroke="#777" stroke-width="0.15" letter-spacing="0.2">fl/fl</tspan></text>
<text transform="translate(450.80,275.60) scale(1,1.1)" font-size="8" font-weight="bold" font-style="italic" text-anchor="start" fill="#111" stroke="#111" stroke-width="0.22" >(CD45.2)</text>
<text transform="translate(40.60,365.60) scale(1,1.08)" font-size="8" font-weight="normal" font-style="normal" text-anchor="start" fill="#111" stroke="#111" stroke-width="0.5" >LSK</text>
<path d="M75.50,414.50 C74.67,413.00 72.42,417.42 71.00,419.00 C69.58,420.58 68.07,422.33 67.00,424.00 C65.93,425.67 64.85,427.42 64.60,429.00 C64.35,430.58 64.77,432.67 65.50,433.50 C66.23,434.33 67.75,434.42 69.00,434.00 C70.25,433.58 71.83,432.00 73.00,431.00 C74.17,430.00 75.58,430.75 76.00,428.00 C76.42,425.25 76.33,416.00 75.50,414.50 Z" fill="#e4e4e4" stroke="#a0a0a0" stroke-width="0.6"/>
<path d="M73.70,419.10 C73.20,418.20 71.85,420.85 71.00,421.80 C70.15,422.75 69.24,423.80 68.60,424.80 C67.96,425.80 67.31,426.85 67.16,427.80 C67.01,428.75 67.26,430.00 67.70,430.50 C68.14,431.00 69.05,431.05 69.80,430.80 C70.55,430.55 71.50,429.60 72.20,429.00 C72.90,428.40 73.75,428.85 74.00,427.20 C74.25,425.55 74.20,420.00 73.70,419.10 Z" fill="none" stroke="#b0b0b0" stroke-width="0.5"/>
<path d="M76.50,428.00 C74.25,429.33 77.83,433.67 78.00,436.00 C78.17,438.33 77.17,440.50 77.50,442.00 C77.83,443.50 78.75,444.58 80.00,445.00 C81.25,445.42 83.50,445.17 85.00,444.50 C86.50,443.83 88.03,442.58 89.00,441.00 C89.97,439.42 90.38,437.17 90.80,435.00 C91.22,432.83 93.88,429.17 91.50,428.00 C89.12,426.83 78.75,426.67 76.50,428.00 Z" fill="#d0d0d0" stroke="#8a8a8a" stroke-width="0.6"/>
<path d="M78.5,431 C82,429.8 86,431.8 90,430.5" fill="none" stroke="#8c8c8c" stroke-width="0.55"/>
<path d="M78.5,434 C82,432.8 86,434.8 90,433.5" fill="none" stroke="#8c8c8c" stroke-width="0.55"/>
<path d="M78.5,437 C82,435.8 86,437.8 90,436.5" fill="none" stroke="#8c8c8c" stroke-width="0.55"/>
<path d="M78.5,440 C82,438.8 86,440.8 90,439.5" fill="none" stroke="#8c8c8c" stroke-width="0.55"/>
<path d="M78.5,443 C82,441.8 86,443.8 90,442.5" fill="none" stroke="#8c8c8c" stroke-width="0.55"/>
<path d="M75.40,428.50 C72.93,427.17 75.02,423.33 75.20,421.00 C75.38,418.67 75.70,416.42 76.50,414.50 C77.30,412.58 78.58,410.70 80.00,409.50 C81.42,408.30 83.25,407.47 85.00,407.30 C86.75,407.13 89.07,407.55 90.50,408.50 C91.93,409.45 93.05,411.08 93.60,413.00 C94.15,414.92 93.98,417.75 93.80,420.00 C93.62,422.25 93.13,425.00 92.50,426.50 C91.87,428.00 92.85,428.67 90.00,429.00 C87.15,429.33 77.87,429.83 75.40,428.50 Z" fill="#6e6e6e" stroke="#444" stroke-width="0.8"/>
<path d="M77.12,426.80 C75.15,425.73 76.81,422.67 76.96,420.80 C77.11,418.93 77.36,417.13 78.00,415.60 C78.64,414.07 79.67,412.56 80.80,411.60 C81.93,410.64 83.40,409.97 84.80,409.84 C86.20,409.71 88.05,410.04 89.20,410.80 C90.35,411.56 91.24,412.87 91.68,414.40 C92.12,415.93 91.99,418.20 91.84,420.00 C91.69,421.80 91.31,424.00 90.80,425.20 C90.29,426.40 91.08,426.93 88.80,427.20 C86.52,427.47 79.09,427.87 77.12,426.80 Z" fill="#4a4a4a" stroke="#333" stroke-width="0.5"/>
<path d="M78.84,425.10 C77.36,424.30 78.61,422.00 78.72,420.60 C78.83,419.20 79.02,417.85 79.50,416.70 C79.98,415.55 80.75,414.42 81.60,413.70 C82.45,412.98 83.55,412.48 84.60,412.38 C85.65,412.28 87.04,412.53 87.90,413.10 C88.76,413.67 89.43,414.65 89.76,415.80 C90.09,416.95 89.99,418.65 89.88,420.00 C89.77,421.35 89.48,423.00 89.10,423.90 C88.72,424.80 89.31,425.20 87.60,425.40 C85.89,425.60 80.32,425.90 78.84,425.10 Z" fill="#383838" stroke="none"/>
<path d="M80,409.6 C84,407.8 89,408 92.5,411" fill="none" stroke="#666" stroke-width="1.6"/>
<path d="M76.4,426 C76,421 77,416 80.8,413.4 C82.5,412.6 84.5,412.6 86.5,413.2" fill="none" stroke="#1e1e1e" stroke-width="2.2"/>
<ellipse cx="90" cy="419.8" rx="2.0" ry="3.0" fill="#151515"/>
<ellipse cx="82.5" cy="422" rx="2.6" ry="3.2" fill="#555" opacity="0.7"/>
<rect x="83.8" y="418.9" width="3.4" height="1.9" rx="0.6" fill="#f0f0f0"/>
<circle cx="67.3" cy="431" r="1.9" fill="none" stroke="#999" stroke-width="0.6"/>
<circle cx="72.5" cy="445" r="1.3" fill="none" stroke="#aaa" stroke-width="0.5"/>
<line x1="35.50" y1="446.20" x2="37.50" y2="446.20" stroke="#444" stroke-width="0.6" />
<line x1="36.50" y1="441.48" x2="37.50" y2="441.48" stroke="#444" stroke-width="0.6" />
<line x1="36.50" y1="436.77" x2="37.50" y2="436.77" stroke="#444" stroke-width="0.6" />
<line x1="36.50" y1="432.05" x2="37.50" y2="432.05" stroke="#444" stroke-width="0.6" />
<line x1="35.50" y1="427.34" x2="37.50" y2="427.34" stroke="#444" stroke-width="0.6" />
<line x1="36.50" y1="422.62" x2="37.50" y2="422.62" stroke="#444" stroke-width="0.6" />
<line x1="36.50" y1="417.91" x2="37.50" y2="417.91" stroke="#444" stroke-width="0.6" />
<line x1="36.50" y1="413.19" x2="37.50" y2="413.19" stroke="#444" stroke-width="0.6" />
<line x1="35.50" y1="408.48" x2="37.50" y2="408.48" stroke="#444" stroke-width="0.6" />
<line x1="36.50" y1="403.76" x2="37.50" y2="403.76" stroke="#444" stroke-width="0.6" />
<line x1="36.50" y1="399.05" x2="37.50" y2="399.05" stroke="#444" stroke-width="0.6" />
<line x1="36.50" y1="394.33" x2="37.50" y2="394.33" stroke="#444" stroke-width="0.6" />
<line x1="35.50" y1="389.62" x2="37.50" y2="389.62" stroke="#444" stroke-width="0.6" />
<line x1="36.50" y1="384.90" x2="37.50" y2="384.90" stroke="#444" stroke-width="0.6" />
<line x1="36.50" y1="380.19" x2="37.50" y2="380.19" stroke="#444" stroke-width="0.6" />
<line x1="36.50" y1="375.47" x2="37.50" y2="375.47" stroke="#444" stroke-width="0.6" />
<line x1="35.50" y1="370.76" x2="37.50" y2="370.76" stroke="#444" stroke-width="0.6" />
<line x1="37.50" y1="446.20" x2="37.50" y2="448.20" stroke="#444" stroke-width="0.6" />
<line x1="42.23" y1="446.20" x2="42.23" y2="447.20" stroke="#444" stroke-width="0.6" />
<line x1="46.97" y1="446.20" x2="46.97" y2="447.20" stroke="#444" stroke-width="0.6" />
<line x1="51.70" y1="446.20" x2="51.70" y2="447.20" stroke="#444" stroke-width="0.6" />
<line x1="56.43" y1="446.20" x2="56.43" y2="448.20" stroke="#444" stroke-width="0.6" />
<line x1="61.17" y1="446.20" x2="61.17" y2="447.20" stroke="#444" stroke-width="0.6" />
<line x1="65.90" y1="446.20" x2="65.90" y2="447.20" stroke="#444" stroke-width="0.6" />
<line x1="70.63" y1="446.20" x2="70.63" y2="447.20" stroke="#444" stroke-width="0.6" />
<line x1="75.37" y1="446.20" x2="75.37" y2="448.20" stroke="#444" stroke-width="0.6" />
<line x1="80.10" y1="446.20" x2="80.10" y2="447.20" stroke="#444" stroke-width="0.6" />
<line x1="84.83" y1="446.20" x2="84.83" y2="447.20" stroke="#444" stroke-width="0.6" />
<line x1="89.57" y1="446.20" x2="89.57" y2="447.20" stroke="#444" stroke-width="0.6" />
<line x1="94.30" y1="446.20" x2="94.30" y2="448.20" stroke="#444" stroke-width="0.6" />
<line x1="99.03" y1="446.20" x2="99.03" y2="447.20" stroke="#444" stroke-width="0.6" />
<line x1="103.77" y1="446.20" x2="103.77" y2="447.20" stroke="#444" stroke-width="0.6" />
<line x1="108.50" y1="446.20" x2="108.50" y2="447.20" stroke="#444" stroke-width="0.6" />
<line x1="113.23" y1="446.20" x2="113.23" y2="448.20" stroke="#444" stroke-width="0.6" />
<line x1="37.50" y1="368.40" x2="115.60" y2="368.40" stroke="#222" stroke-width="1.1" />
<line x1="115.60" y1="368.40" x2="115.60" y2="446.20" stroke="#222" stroke-width="1.1" />
<line x1="37.50" y1="367.90" x2="37.50" y2="446.90" stroke="#111" stroke-width="1.5" />
<line x1="37.00" y1="446.20" x2="116.00" y2="446.20" stroke="#111" stroke-width="1.5" />
<line x1="76.50" y1="370.40" x2="76.50" y2="446.20" stroke="#333" stroke-width="1.0" />
<line x1="40.00" y1="428.40" x2="115.60" y2="428.40" stroke="#222" stroke-width="1.1" />
<text transform="translate(41.40,379.60) scale(1,1.1)" font-size="8.2" font-weight="bold" font-style="normal" text-anchor="start" fill="#111" stroke="#111" stroke-width="0.22" >6</text>
<text transform="translate(98.40,379.60) scale(1,1.1)" font-size="8.2" font-weight="bold" font-style="normal" text-anchor="start" fill="#111" stroke="#111" stroke-width="0.22" >70</text>
<text transform="translate(41.40,443.60) scale(1,1.1)" font-size="8.2" font-weight="bold" font-style="normal" text-anchor="start" fill="#111" stroke="#111" stroke-width="0.22" >4</text>
<text transform="translate(98.40,443.60) scale(1,1.1)" font-size="8.2" font-weight="bold" font-style="normal" text-anchor="start" fill="#111" stroke="#111" stroke-width="0.22" >21</text>
<path d="M57.50,521.00 C57.17,519.17 57.92,517.08 59.00,516.00 C60.08,514.92 62.50,514.42 64.00,514.50 C65.50,514.58 66.83,515.67 68.00,516.50 C69.17,517.33 70.67,518.25 71.00,519.50 C71.33,520.75 70.83,522.67 70.00,524.00 C69.17,525.33 67.50,527.00 66.00,527.50 C64.50,528.00 62.42,528.08 61.00,527.00 C59.58,525.92 57.83,522.83 57.50,521.00 Z" fill="#f2f2f2" stroke="#9a9a9a" stroke-width="0.6"/>
<path d="M60.10,521.00 C59.90,519.90 60.35,518.65 61.00,518.00 C61.65,517.35 63.10,517.05 64.00,517.10 C64.90,517.15 65.70,517.80 66.40,518.30 C67.10,518.80 68.00,519.35 68.20,520.10 C68.40,520.85 68.10,522.00 67.60,522.80 C67.10,523.60 66.10,524.60 65.20,524.90 C64.30,525.20 63.05,525.25 62.20,524.60 C61.35,523.95 60.30,522.10 60.10,521.00 Z" fill="none" stroke="#aaa" stroke-width="0.5"/>
<path d="M69.00,517.00 C69.58,515.58 71.67,514.75 73.00,514.50 C74.33,514.25 76.17,514.58 77.00,515.50 C77.83,516.42 78.17,518.42 78.00,520.00 C77.83,521.58 75.83,523.50 76.00,525.00 C76.17,526.50 79.17,528.00 79.00,529.00 C78.83,530.00 76.33,531.17 75.00,531.00 C73.67,530.83 71.92,529.33 71.00,528.00 C70.08,526.67 69.83,524.83 69.50,523.00 C69.17,521.17 68.42,518.42 69.00,517.00 Z" fill="#f2f2f2" stroke="#9a9a9a" stroke-width="0.6"/>
<path d="M70.80,519.00 C71.15,518.15 72.40,517.65 73.20,517.50 C74.00,517.35 75.10,517.55 75.60,518.10 C76.10,518.65 76.30,519.85 76.20,520.80 C76.10,521.75 74.90,522.90 75.00,523.80 C75.10,524.70 76.90,525.60 76.80,526.20 C76.70,526.80 75.20,527.50 74.40,527.40 C73.60,527.30 72.55,526.40 72.00,525.60 C71.45,524.80 71.30,523.70 71.10,522.60 C70.90,521.50 70.45,519.85 70.80,519.00 Z" fill="none" stroke="#aaa" stroke-width="0.5"/>
<path d="M78.00,516.00 C78.50,514.75 80.58,514.50 82.00,514.50 C83.42,514.50 85.50,514.92 86.50,516.00 C87.50,517.08 88.08,519.33 88.00,521.00 C87.92,522.67 86.00,524.50 86.00,526.00 C86.00,527.50 88.33,529.13 88.00,530.00 C87.67,530.87 85.17,531.70 84.00,531.20 C82.83,530.70 81.83,528.53 81.00,527.00 C80.17,525.47 79.50,523.83 79.00,522.00 C78.50,520.17 77.50,517.25 78.00,516.00 Z" fill="#f2f2f2" stroke="#9a9a9a" stroke-width="0.6"/>
<path d="M80.00,518.40 C80.30,517.65 81.55,517.50 82.40,517.50 C83.25,517.50 84.50,517.75 85.10,518.40 C85.70,519.05 86.05,520.40 86.00,521.40 C85.95,522.40 84.80,523.50 84.80,524.40 C84.80,525.30 86.20,526.28 86.00,526.80 C85.80,527.32 84.30,527.82 83.60,527.52 C82.90,527.22 82.30,525.92 81.80,525.00 C81.30,524.08 80.90,523.10 80.60,522.00 C80.30,520.90 79.70,519.15 80.00,518.40 Z" fill="none" stroke="#aaa" stroke-width="0.5"/>
<path d="M46.90,505.20 C46.98,503.95 48.48,501.53 50.00,500.00 C51.52,498.47 53.82,497.17 56.00,496.00 C58.18,494.83 61.10,493.83 63.10,493.00 C65.10,492.17 66.27,491.47 68.00,491.00 C69.73,490.53 71.33,490.33 73.50,490.20 C75.67,490.07 78.50,490.02 81.00,490.20 C83.50,490.38 86.42,490.75 88.50,491.30 C90.58,491.85 92.22,492.38 93.50,493.50 C94.78,494.62 95.87,496.25 96.20,498.00 C96.53,499.75 96.22,502.13 95.50,504.00 C94.78,505.87 93.48,507.78 91.90,509.20 C90.32,510.62 88.15,511.87 86.00,512.50 C83.85,513.13 81.33,513.17 79.00,513.00 C76.67,512.83 74.17,512.08 72.00,511.50 C69.83,510.92 68.00,509.92 66.00,509.50 C64.00,509.08 61.83,509.13 60.00,509.00 C58.17,508.87 56.75,508.95 55.00,508.70 C53.25,508.45 50.85,508.08 49.50,507.50 C48.15,506.92 46.82,506.45 46.90,505.20 Z" fill="#e2e2e2" stroke="#666" stroke-width="0.7"/>
<path d="M50.15,504.70 C50.23,503.60 51.55,501.47 52.88,500.12 C54.21,498.77 56.24,497.63 58.16,496.60 C60.08,495.57 62.65,494.69 64.41,493.96 C66.17,493.23 67.19,492.61 68.72,492.20 C70.25,491.79 71.65,491.61 73.56,491.50 C75.47,491.38 77.96,491.33 80.16,491.50 C82.36,491.66 84.93,491.98 86.76,492.46 C88.59,492.95 90.03,493.42 91.16,494.40 C92.29,495.38 93.24,496.82 93.54,498.36 C93.83,499.90 93.55,502.00 92.92,503.64 C92.29,505.28 91.15,506.97 89.75,508.22 C88.36,509.46 86.45,510.56 84.56,511.12 C82.67,511.68 80.45,511.71 78.40,511.56 C76.35,511.41 74.15,510.75 72.24,510.24 C70.33,509.73 68.72,508.85 66.96,508.48 C65.20,508.11 63.29,508.16 61.68,508.04 C60.07,507.92 58.82,508.00 57.28,507.78 C55.74,507.56 53.63,507.23 52.44,506.72 C51.25,506.21 50.08,505.80 50.15,504.70 Z" fill="#d2d2d2" stroke="#888" stroke-width="0.5"/>
<path d="M53.95,504.11 C54.01,503.18 55.12,501.39 56.24,500.26 C57.36,499.13 59.06,498.16 60.68,497.30 C62.30,496.44 64.45,495.70 65.93,495.08 C67.41,494.46 68.28,493.95 69.56,493.60 C70.84,493.25 72.03,493.11 73.63,493.01 C75.23,492.91 77.33,492.87 79.18,493.01 C81.03,493.14 83.19,493.42 84.73,493.82 C86.27,494.23 87.48,494.62 88.43,495.45 C89.38,496.28 90.18,497.48 90.43,498.78 C90.67,500.07 90.44,501.84 89.91,503.22 C89.38,504.60 88.42,506.02 87.25,507.07 C86.07,508.12 84.47,509.04 82.88,509.51 C81.29,509.98 79.43,510.00 77.70,509.88 C75.97,509.76 74.12,509.20 72.52,508.77 C70.92,508.34 69.56,507.60 68.08,507.29 C66.60,506.98 65.00,507.02 63.64,506.92 C62.28,506.82 61.23,506.88 59.94,506.70 C58.64,506.51 56.87,506.24 55.87,505.81 C54.87,505.38 53.88,505.03 53.95,504.11 Z" fill="none" stroke="#999" stroke-width="0.5"/>
<ellipse cx="58" cy="501" rx="4" ry="2" fill="#e8e8e8" opacity="0.8"/>
<ellipse cx="66" cy="499" rx="3" ry="1.5" fill="#e8e8e8" opacity="0.7"/>
<path d="M63,493.5 C68,491 75,490.2 82,490.4 C89,490.6 94,493 96,498" fill="none" stroke="#333" stroke-width="1.8" opacity="0.85"/>
<path d="M70,494 C74,492.6 78,492.5 80,493" fill="none" stroke="#555" stroke-width="1.2"/>
<ellipse cx="83.8" cy="502.6" rx="6.6" ry="8.2" fill="#777" stroke="#1a1a1a" stroke-width="2.2"/>
<ellipse cx="83.8" cy="502.6" rx="3.8" ry="5.6" fill="#9a9a9a" stroke="#444" stroke-width="0.8"/>
<ellipse cx="83.5" cy="499.5" rx="1.3" ry="1.6" fill="#f4f4f4"/>
<ellipse cx="85" cy="505" rx="1.1" ry="1.5" fill="#e8e8e8"/>
<path d="M41.5,498.5 C41.5,497 43,497 43.2,499 C43.4,501 41.8,502.5 41.5,501 Z" fill="none" stroke="#aaa" stroke-width="0.6"/>
<circle cx="55" cy="528.5" r="0.6" fill="#555"/>
<line x1="35.80" y1="532.30" x2="37.80" y2="532.30" stroke="#444" stroke-width="0.6" />
<line x1="36.80" y1="527.57" x2="37.80" y2="527.57" stroke="#444" stroke-width="0.6" />
<line x1="36.80" y1="522.85" x2="37.80" y2="522.85" stroke="#444" stroke-width="0.6" />
<line x1="36.80" y1="518.12" x2="37.80" y2="518.12" stroke="#444" stroke-width="0.6" />
<line x1="35.80" y1="513.39" x2="37.80" y2="513.39" stroke="#444" stroke-width="0.6" />
<line x1="36.80" y1="508.66" x2="37.80" y2="508.66" stroke="#444" stroke-width="0.6" />
<line x1="36.80" y1="503.94" x2="37.80" y2="503.94" stroke="#444" stroke-width="0.6" />
<line x1="36.80" y1="499.21" x2="37.80" y2="499.21" stroke="#444" stroke-width="0.6" />
<line x1="35.80" y1="494.48" x2="37.80" y2="494.48" stroke="#444" stroke-width="0.6" />
<line x1="36.80" y1="489.75" x2="37.80" y2="489.75" stroke="#444" stroke-width="0.6" />
<line x1="36.80" y1="485.03" x2="37.80" y2="485.03" stroke="#444" stroke-width="0.6" />
<line x1="36.80" y1="480.30" x2="37.80" y2="480.30" stroke="#444" stroke-width="0.6" />
<line x1="35.80" y1="475.57" x2="37.80" y2="475.57" stroke="#444" stroke-width="0.6" />
<line x1="36.80" y1="470.85" x2="37.80" y2="470.85" stroke="#444" stroke-width="0.6" />
<line x1="36.80" y1="466.12" x2="37.80" y2="466.12" stroke="#444" stroke-width="0.6" />
<line x1="36.80" y1="461.39" x2="37.80" y2="461.39" stroke="#444" stroke-width="0.6" />
<line x1="35.80" y1="456.66" x2="37.80" y2="456.66" stroke="#444" stroke-width="0.6" />
<line x1="37.80" y1="532.30" x2="37.80" y2="534.30" stroke="#444" stroke-width="0.6" />
<line x1="42.49" y1="532.30" x2="42.49" y2="533.30" stroke="#444" stroke-width="0.6" />
<line x1="47.18" y1="532.30" x2="47.18" y2="533.30" stroke="#444" stroke-width="0.6" />
<line x1="51.87" y1="532.30" x2="51.87" y2="533.30" stroke="#444" stroke-width="0.6" />
<line x1="56.56" y1="532.30" x2="56.56" y2="534.30" stroke="#444" stroke-width="0.6" />
<line x1="61.25" y1="532.30" x2="61.25" y2="533.30" stroke="#444" stroke-width="0.6" />
<line x1="65.95" y1="532.30" x2="65.95" y2="533.30" stroke="#444" stroke-width="0.6" />
<line x1="70.64" y1="532.30" x2="70.64" y2="533.30" stroke="#444" stroke-width="0.6" />
<line x1="75.33" y1="532.30" x2="75.33" y2="534.30" stroke="#444" stroke-width="0.6" />
<line x1="80.02" y1="532.30" x2="80.02" y2="533.30" stroke="#444" stroke-width="0.6" />
<line x1="84.71" y1="532.30" x2="84.71" y2="533.30" stroke="#444" stroke-width="0.6" />
<line x1="89.40" y1="532.30" x2="89.40" y2="533.30" stroke="#444" stroke-width="0.6" />
<line x1="94.09" y1="532.30" x2="94.09" y2="534.30" stroke="#444" stroke-width="0.6" />
<line x1="98.78" y1="532.30" x2="98.78" y2="533.30" stroke="#444" stroke-width="0.6" />
<line x1="103.47" y1="532.30" x2="103.47" y2="533.30" stroke="#444" stroke-width="0.6" />
<line x1="108.16" y1="532.30" x2="108.16" y2="533.30" stroke="#444" stroke-width="0.6" />
<line x1="112.85" y1="532.30" x2="112.85" y2="534.30" stroke="#444" stroke-width="0.6" />
<line x1="37.80" y1="454.30" x2="115.20" y2="454.30" stroke="#222" stroke-width="1.1" />
<line x1="115.20" y1="454.30" x2="115.20" y2="532.30" stroke="#222" stroke-width="1.1" />
<line x1="37.80" y1="453.80" x2="37.80" y2="533.00" stroke="#111" stroke-width="1.5" />
<line x1="37.30" y1="532.30" x2="115.60" y2="532.30" stroke="#111" stroke-width="1.5" />
<line x1="76.70" y1="456.30" x2="76.70" y2="532.30" stroke="#333" stroke-width="1.0" />
<line x1="40.30" y1="513.70" x2="115.20" y2="513.70" stroke="#222" stroke-width="1.1" />
<text transform="translate(41.80,465.30) scale(1,1.1)" font-size="8.2" font-weight="bold" font-style="normal" text-anchor="start" fill="#111" stroke="#111" stroke-width="0.22" >32</text>
<text transform="translate(98.40,465.30) scale(1,1.1)" font-size="8.2" font-weight="bold" font-style="normal" text-anchor="start" fill="#111" stroke="#111" stroke-width="0.22" >55</text>
<text transform="translate(41.80,528.80) scale(1,1.1)" font-size="8.2" font-weight="bold" font-style="normal" text-anchor="start" fill="#111" stroke="#111" stroke-width="0.22" >7</text>
<text transform="translate(98.60,528.80) scale(1,1.1)" font-size="8.2" font-weight="bold" font-style="normal" text-anchor="start" fill="#111" stroke="#111" stroke-width="0.22" >6</text>
<text transform="translate(34.9,513.3) rotate(-90) scale(1,1.08)" font-size="8" font-weight="normal" text-anchor="middle" fill="#111" stroke="#111" stroke-width="0.5">CD150</text>
<text transform="translate(40.00,543.80) scale(1,1.1)" font-size="8" font-weight="normal" font-style="normal" text-anchor="start" fill="#111" stroke="#111" stroke-width="0.5" >CD48</text>
<text transform="translate(119.20,376.70) scale(1,1.1)" font-size="8" font-weight="bold" font-style="italic" text-anchor="start" fill="#111" stroke="#111" stroke-width="0.22" >wt (CD45.1)</text>
<text transform="translate(119.20,386.60) scale(1,1.1)" font-size="8" font-weight="bold" font-style="italic" text-anchor="start" fill="#111" stroke="#111" stroke-width="0.22" >Gfi1b<tspan font-size="5.2" dy="-2.2" fill="#666" stroke="#777" stroke-width="0.15" letter-spacing="0.2">fl/fl</tspan><tspan dy="2.2">(CD45.2)</tspan></text>
<text transform="translate(118.80,461.40) scale(1,1.1)" font-size="8" font-weight="bold" font-style="italic" text-anchor="start" fill="#111" stroke="#111" stroke-width="0.22" >wt (CD45.1):</text>
<text transform="translate(118.80,471.40) scale(1,1.1)" font-size="8" font-weight="bold" font-style="italic" text-anchor="start" fill="#111" stroke="#111" stroke-width="0.22" >MxCre tg Gfi1b<tspan font-size="5.2" dy="-2.2" fill="#666" stroke="#777" stroke-width="0.15" letter-spacing="0.2">fl/fl</tspan></text>
<text transform="translate(118.80,481.00) scale(1,1.1)" font-size="8" font-weight="bold" font-style="italic" text-anchor="start" fill="#111" stroke="#111" stroke-width="0.22" >(CD45.2)</text>
<line x1="135.90" y1="410.30" x2="178.90" y2="410.30" stroke="#111" stroke-width="1.1" />
<path d="M171.70,406.70 L178.90,410.30 L171.70,413.90" fill="none" stroke="#111" stroke-width="1.1" />
<line x1="135.90" y1="508.10" x2="178.90" y2="508.10" stroke="#111" stroke-width="1.1" />
<path d="M171.70,504.50 L178.90,508.10 L171.70,511.70" fill="none" stroke="#111" stroke-width="1.1" />
<text transform="translate(200.80,356.60) scale(1,1.08)" font-size="8" font-weight="normal" font-style="normal" text-anchor="start" fill="#111" stroke="#111" stroke-width="0.5" >HSCs</text>
<text transform="translate(200.80,365.80) scale(1,1.05)" font-size="8.3" font-weight="normal" font-style="normal" text-anchor="start" fill="#111" stroke="#111" stroke-width="0.5" >(LSK, CD48<tspan font-size="5" dy="-2.6">-</tspan><tspan dy="2.6"> CD150</tspan><tspan font-size="5" dy="-2.6">+</tspan><tspan dy="2.6">)</tspan></text>
<line x1="199.00" y1="447.70" x2="200.50" y2="447.70" stroke="#aaa" stroke-width="0.5" />
<line x1="199.70" y1="438.19" x2="200.50" y2="438.19" stroke="#aaa" stroke-width="0.5" />
<line x1="199.00" y1="428.69" x2="200.50" y2="428.69" stroke="#aaa" stroke-width="0.5" />
<line x1="199.70" y1="419.18" x2="200.50" y2="419.18" stroke="#aaa" stroke-width="0.5" />
<line x1="199.00" y1="409.68" x2="200.50" y2="409.68" stroke="#aaa" stroke-width="0.5" />
<line x1="199.70" y1="400.17" x2="200.50" y2="400.17" stroke="#aaa" stroke-width="0.5" />
<line x1="199.00" y1="390.66" x2="200.50" y2="390.66" stroke="#aaa" stroke-width="0.5" />
<line x1="199.70" y1="381.16" x2="200.50" y2="381.16" stroke="#aaa" stroke-width="0.5" />
<line x1="199.00" y1="371.65" x2="200.50" y2="371.65" stroke="#aaa" stroke-width="0.5" />
<line x1="200.50" y1="447.70" x2="200.50" y2="449.20" stroke="#aaa" stroke-width="0.5" />
<line x1="210.02" y1="447.70" x2="210.02" y2="448.50" stroke="#aaa" stroke-width="0.5" />
<line x1="219.54" y1="447.70" x2="219.54" y2="449.20" stroke="#aaa" stroke-width="0.5" />
<line x1="229.05" y1="447.70" x2="229.05" y2="448.50" stroke="#aaa" stroke-width="0.5" />
<line x1="238.57" y1="447.70" x2="238.57" y2="449.20" stroke="#aaa" stroke-width="0.5" />
<line x1="248.09" y1="447.70" x2="248.09" y2="448.50" stroke="#aaa" stroke-width="0.5" />
<line x1="257.61" y1="447.70" x2="257.61" y2="449.20" stroke="#aaa" stroke-width="0.5" />
<line x1="267.13" y1="447.70" x2="267.13" y2="448.50" stroke="#aaa" stroke-width="0.5" />
<line x1="276.64" y1="447.70" x2="276.64" y2="449.20" stroke="#aaa" stroke-width="0.5" />
<rect x="200.50" y="368.80" width="79.00" height="78.90" fill="none" stroke="#c4c4c4" stroke-width="0.8" />
<line x1="200.50" y1="447.70" x2="279.50" y2="447.70" stroke="#999" stroke-width="1.2" />
<path d="M208.8,447.7 L211.4,433.4 L213.2,441.2 L214.9,433.4 L216.6,435.1 L217.5,431.6 L219.2,410.0 L220.6,400.5 L221.8,405.7 L223.6,411.7 L225.3,425.6 L227.9,444.6 L229.6,425.6 L231.3,380.6 L232.2,372.8 L233.4,378.8 L235.7,399.6 L238.3,434.2 L240.3,447.7" fill="none" stroke="#a8a8a8" stroke-width="0.9" stroke-linejoin="round"/>
<line x1="200.50" y1="404.50" x2="279.50" y2="404.50" stroke="#111" stroke-width="1.6" />
<line x1="227.90" y1="396.20" x2="227.90" y2="404.50" stroke="#111" stroke-width="1.2" />
<text transform="translate(201.60,400.60) scale(1,1.1)" font-size="8.2" font-weight="bold" font-style="normal" text-anchor="start" fill="#111" stroke="#111" stroke-width="0.22" >48</text>
<text transform="translate(262.20,400.60) scale(1,1.1)" font-size="8.2" font-weight="bold" font-style="normal" text-anchor="start" fill="#111" stroke="#111" stroke-width="0.22" >52</text>
<line x1="200.10" y1="533.10" x2="201.60" y2="533.10" stroke="#aaa" stroke-width="0.5" />
<line x1="200.80" y1="523.61" x2="201.60" y2="523.61" stroke="#aaa" stroke-width="0.5" />
<line x1="200.10" y1="514.11" x2="201.60" y2="514.11" stroke="#aaa" stroke-width="0.5" />
<line x1="200.80" y1="504.62" x2="201.60" y2="504.62" stroke="#aaa" stroke-width="0.5" />
<line x1="200.10" y1="495.12" x2="201.60" y2="495.12" stroke="#aaa" stroke-width="0.5" />
<line x1="200.80" y1="485.63" x2="201.60" y2="485.63" stroke="#aaa" stroke-width="0.5" />
<line x1="200.10" y1="476.14" x2="201.60" y2="476.14" stroke="#aaa" stroke-width="0.5" />
<line x1="200.80" y1="466.64" x2="201.60" y2="466.64" stroke="#aaa" stroke-width="0.5" />
<line x1="200.10" y1="457.15" x2="201.60" y2="457.15" stroke="#aaa" stroke-width="0.5" />
<line x1="201.60" y1="533.10" x2="201.60" y2="534.60" stroke="#aaa" stroke-width="0.5" />
<line x1="211.08" y1="533.10" x2="211.08" y2="533.90" stroke="#aaa" stroke-width="0.5" />
<line x1="220.56" y1="533.10" x2="220.56" y2="534.60" stroke="#aaa" stroke-width="0.5" />
<line x1="230.05" y1="533.10" x2="230.05" y2="533.90" stroke="#aaa" stroke-width="0.5" />
<line x1="239.53" y1="533.10" x2="239.53" y2="534.60" stroke="#aaa" stroke-width="0.5" />
<line x1="249.01" y1="533.10" x2="249.01" y2="533.90" stroke="#aaa" stroke-width="0.5" />
<line x1="258.49" y1="533.10" x2="258.49" y2="534.60" stroke="#aaa" stroke-width="0.5" />
<line x1="267.97" y1="533.10" x2="267.97" y2="533.90" stroke="#aaa" stroke-width="0.5" />
<line x1="277.46" y1="533.10" x2="277.46" y2="534.60" stroke="#aaa" stroke-width="0.5" />
<rect x="201.60" y="454.30" width="78.70" height="78.80" fill="none" stroke="#c4c4c4" stroke-width="0.8" />
<line x1="201.60" y1="533.10" x2="280.30" y2="533.10" stroke="#999" stroke-width="1.2" />
<path d="M215.8,532.7 L217.5,527.0 L220.1,529.6 L222.7,532.7 L225.0,532.7 L227.0,528.7 L229.6,532.7 L234.8,532.7 L236.5,526.2 L238.3,484.6 L239.7,465.6 L240.9,459.5 L241.7,465.6 L242.6,454.3 L243.8,463.8 L244.8,472.5 L245.5,469.0 L246.6,484.6 L247.8,519.2 L249.0,522.7 L250.4,526.2 L251.8,532.7" fill="none" stroke="#a8a8a8" stroke-width="0.9" stroke-linejoin="round"/>
<line x1="201.60" y1="490.20" x2="280.30" y2="490.20" stroke="#111" stroke-width="1.6" />
<line x1="229.10" y1="482.90" x2="229.10" y2="490.20" stroke="#111" stroke-width="1.2" />
<text transform="translate(206.40,486.70) scale(1,1.1)" font-size="8.2" font-weight="bold" font-style="normal" text-anchor="start" fill="#111" stroke="#111" stroke-width="0.22" >6</text>
<text transform="translate(269.50,486.70) scale(1,1.1)" font-size="8.2" font-weight="bold" font-style="normal" text-anchor="start" fill="#111" stroke="#111" stroke-width="0.22" >94</text>
<text transform="translate(195.0,512.5) rotate(-90) scale(1,1.08)" font-size="8" font-weight="normal" text-anchor="middle" fill="#111" stroke="#111" stroke-width="0.5">counts</text>
<text transform="translate(203.00,544.10) scale(1,1.1)" font-size="8" font-weight="normal" font-style="normal" text-anchor="start" fill="#111" stroke="#111" stroke-width="0.5" >CD45.2</text>
<text transform="translate(284.30,375.50) scale(1,1.1)" font-size="8.2" font-weight="bold" font-style="italic" text-anchor="start" fill="#111" stroke="#111" stroke-width="0.22" >wt (CD45.1)</text>
<text transform="translate(284.30,385.00) scale(1,1.1)" font-size="8.2" font-weight="bold" font-style="italic" text-anchor="start" fill="#111" stroke="#111" stroke-width="0.22" >Gfi1b<tspan font-size="5.2" dy="-2.2" fill="#666" stroke="#777" stroke-width="0.15" letter-spacing="0.2">fl/fl</tspan><tspan dy="2.2">(CD45.2)</tspan></text>
<text transform="translate(284.00,474.50) scale(1,1.1)" font-size="8.2" font-weight="bold" font-style="italic" text-anchor="start" fill="#111" stroke="#111" stroke-width="0.22" >wt (CD45.1):</text>
<text transform="translate(284.00,485.00) scale(1,1.1)" font-size="8.2" font-weight="bold" font-style="italic" text-anchor="start" fill="#111" stroke="#111" stroke-width="0.22" >MxCre tg Gfi1b<tspan font-size="5.2" dy="-2.2" fill="#666" stroke="#777" stroke-width="0.15" letter-spacing="0.2">fl/fl</tspan></text>
<text transform="translate(284.00,494.30) scale(1,1.1)" font-size="8.2" font-weight="bold" font-style="italic" text-anchor="start" fill="#111" stroke="#111" stroke-width="0.22" >(CD45.2)</text>
<text transform="translate(348.60,366.60) scale(1,1.1)" font-size="8.2" font-weight="bold" font-style="normal" text-anchor="start" fill="#111" stroke="#111" stroke-width="0.22" >Gfi1b-genotyping:</text>
<text transform="translate(349.60,382.80) scale(1,1.1)" font-size="8" font-weight="bold" font-style="italic" text-anchor="start" fill="#111" stroke="#111" stroke-width="0.22" >wt (CD45.1):</text>
<text transform="translate(349.60,392.40) scale(1,1.1)" font-size="8" font-weight="bold" font-style="italic" text-anchor="start" fill="#111" stroke="#111" stroke-width="0.22" >MxCre tg Gfi1b<tspan font-size="5.2" dy="-2.2" fill="#666" stroke="#777" stroke-width="0.15" letter-spacing="0.2">fl/fl</tspan><tspan dy="2.2"> (CD45.2)</tspan></text>
<text transform="translate(361.00,409.70) scale(1,1.1)" font-size="8" font-weight="bold" font-style="normal" text-anchor="middle" fill="#111" stroke="#111" stroke-width="0.22" >HSC</text>
<text transform="translate(380.50,409.70) scale(1,1.1)" font-size="8" font-weight="bold" font-style="normal" text-anchor="middle" fill="#111" stroke="#111" stroke-width="0.22" >BM</text>
<text transform="translate(401.10,409.70) scale(1,1.1)" font-size="8" font-weight="bold" font-style="normal" text-anchor="middle" fill="#111" stroke="#111" stroke-width="0.22" >SP</text>
<text transform="translate(423.70,409.70) scale(1,1.1)" font-size="8" font-weight="bold" font-style="normal" text-anchor="middle" fill="#111" stroke="#111" stroke-width="0.22" >Thy</text>
<text transform="translate(446.40,409.70) scale(1,1.1)" font-size="8" font-weight="bold" font-style="normal" text-anchor="middle" fill="#111" stroke="#111" stroke-width="0.22" >CTL</text>
<rect x="346" y="410.8" width="105.8" height="63.8" fill="url(#gelg)"/>
<rect x="346" y="410.8" width="105.8" height="2.2" fill="#141414"/>
<rect x="368.3" y="413" width="2.4" height="61.6" fill="#1c1c1c" opacity="0.8"/>
<rect x="389.7" y="413" width="2.4" height="61.6" fill="#1c1c1c" opacity="0.8"/>
<rect x="411.1" y="413" width="2.4" height="61.6" fill="#1c1c1c" opacity="0.8"/>
<rect x="432.1" y="413" width="2.4" height="61.6" fill="#1c1c1c" opacity="0.8"/>
<g filter="url(#blur2)" opacity="0.35"><rect x="372" y="416" width="17" height="5" fill="#666"/><rect x="393" y="416" width="17" height="5" fill="#555"/><rect x="372" y="432" width="17" height="12" fill="#333"/><rect x="393" y="432" width="17" height="12" fill="#333"/></g>
<rect x="350.70" y="425.50" width="16.60" height="3.00" rx="1" fill="#fff" opacity="0.85" filter="url(#blur1)"/>
<rect x="351.70" y="426.20" width="14.60" height="1.60" fill="#fff" opacity="0.68"/>
<rect x="371.70" y="425.20" width="17.30" height="3.60" rx="1" fill="#fff" opacity="0.95" filter="url(#blur1)"/>
<rect x="372.70" y="425.90" width="15.30" height="2.20" fill="#fff" opacity="0.76"/>
<rect x="392.80" y="425.10" width="17.30" height="3.80" rx="1" fill="#fff" opacity="0.98" filter="url(#blur1)"/>
<rect x="393.80" y="425.80" width="15.30" height="2.40" fill="#fff" opacity="0.78"/>
<rect x="414.20" y="425.50" width="17.00" height="3.00" rx="1" fill="#fff" opacity="0.7" filter="url(#blur1)"/>
<rect x="415.20" y="426.20" width="15.00" height="1.60" fill="#fff" opacity="0.56"/>
<rect x="435.40" y="425.30" width="15.90" height="3.40" rx="1" fill="#fff" opacity="0.95" filter="url(#blur1)"/>
<rect x="436.40" y="426.00" width="13.90" height="2.00" fill="#fff" opacity="0.76"/>
<rect x="435.40" y="447.60" width="15.90" height="3.60" rx="1" fill="#fff" opacity="0.98" filter="url(#blur1)"/>
<rect x="436.40" y="448.30" width="13.90" height="2.20" fill="#fff" opacity="0.78"/>
<rect x="350.70" y="453.00" width="16.60" height="2.40" rx="1" fill="#fff" opacity="0.09" filter="url(#blur1)"/>
<rect x="351.70" y="453.70" width="14.60" height="1.00" fill="#fff" opacity="0.07"/>
<rect x="371.70" y="452.10" width="17.30" height="4.20" rx="1" fill="#fff" opacity="1.0" filter="url(#blur1)"/>
<rect x="372.70" y="452.80" width="15.30" height="2.80" fill="#fff" opacity="0.80"/>
<rect x="392.80" y="452.30" width="17.30" height="3.80" rx="1" fill="#fff" opacity="0.95" filter="url(#blur1)"/>
<rect x="393.80" y="453.00" width="15.30" height="2.40" fill="#fff" opacity="0.76"/>
<rect x="414.20" y="452.50" width="17.00" height="3.40" rx="1" fill="#fff" opacity="0.85" filter="url(#blur1)"/>
<rect x="415.20" y="453.20" width="15.00" height="2.00" fill="#fff" opacity="0.68"/>
<rect x="435.40" y="454.50" width="15.90" height="2.00" rx="1" fill="#fff" opacity="0.08" filter="url(#blur1)"/>
<rect x="436.40" y="455.20" width="13.90" height="0.60" fill="#fff" opacity="0.06"/>
<path d="M455.2,425.2 L459.4,423.5 L459.4,426.9 Z" fill="#111" stroke="none" stroke-width="0" />
<path d="M455.2,449.3 L459.4,447.6 L459.4,451.0 Z" fill="#111" stroke="none" stroke-width="0" />
<path d="M455.2,455.3 L459.4,453.6 L459.4,457.0 Z" fill="#111" stroke="none" stroke-width="0" />
<text transform="translate(464.00,428.40) scale(1,1.06)" font-size="10.3" font-weight="normal" font-style="italic" text-anchor="start" fill="#222" stroke="#222" stroke-width="0.14" >ko</text>
<text transform="translate(464.00,453.20) scale(1,1.06)" font-size="10.3" font-weight="normal" font-style="italic" text-anchor="start" fill="#222" stroke="#222" stroke-width="0.14" >flox</text>
<text transform="translate(464.00,465.30) scale(1,1.06)" font-size="10.3" font-weight="normal" font-style="italic" text-anchor="start" fill="#222" stroke="#222" stroke-width="0.14" >wt</text>
<rect x="413.30" y="500.90" width="11.50" height="11.50" fill="#fff" stroke="#111" stroke-width="1.2" />
<rect x="412.70" y="522.20" width="12.70" height="12.80" fill="#000" stroke="none" stroke-width="0" />
<text transform="translate(432.30,505.00) scale(1,1.1)" font-size="8" font-weight="bold" font-style="italic" text-anchor="start" fill="#111" stroke="#111" stroke-width="0.22" >wt (CD45.1)</text>
<text transform="translate(432.30,515.20) scale(1,1.1)" font-size="8" font-weight="bold" font-style="italic" text-anchor="start" fill="#111" stroke="#111" stroke-width="0.22" >Gfi1b<tspan font-size="5.2" dy="-2.2" fill="#666" stroke="#777" stroke-width="0.15" letter-spacing="0.2">fl/fl</tspan><tspan dy="2.2">(CD45.2)</tspan></text>
<text transform="translate(432.30,528.60) scale(1,1.1)" font-size="8" font-weight="bold" font-style="italic" text-anchor="start" fill="#111" stroke="#111" stroke-width="0.22" >wt (CD45.1):</text>
<text transform="translate(432.30,537.80) scale(1,1.1)" font-size="8" font-weight="bold" font-style="italic" text-anchor="start" fill="#111" stroke="#111" stroke-width="0.22" >MxCre tg Gfi1b<tspan font-size="5.2" dy="-2.2" fill="#666" stroke="#777" stroke-width="0.15" letter-spacing="0.2">fl/fl</tspan></text>
<text transform="translate(432.30,548.10) scale(1,1.1)" font-size="8" font-weight="bold" font-style="italic" text-anchor="start" fill="#111" stroke="#111" stroke-width="0.22" >(CD45.2)</text>
<line x1="37.90" y1="670.40" x2="37.90" y2="595.60" stroke="#111" stroke-width="1.35" />
<line x1="35.40" y1="670.40" x2="37.90" y2="670.40" stroke="#111" stroke-width="1.35" />
<text transform="translate(34.60,673.59) scale(1,1.05)" font-size="7.9" font-weight="bold" font-style="normal" text-anchor="end" fill="#111" stroke="#111" stroke-width="0.22" >0.00</text>
<line x1="35.40" y1="651.80" x2="37.90" y2="651.80" stroke="#111" stroke-width="1.35" />
<text transform="translate(34.60,654.99) scale(1,1.05)" font-size="7.9" font-weight="bold" font-style="normal" text-anchor="end" fill="#111" stroke="#111" stroke-width="0.22" >0.01</text>
<line x1="35.40" y1="633.20" x2="37.90" y2="633.20" stroke="#111" stroke-width="1.35" />
<text transform="translate(34.60,636.39) scale(1,1.05)" font-size="7.9" font-weight="bold" font-style="normal" text-anchor="end" fill="#111" stroke="#111" stroke-width="0.22" >0.02</text>
<line x1="35.40" y1="614.60" x2="37.90" y2="614.60" stroke="#111" stroke-width="1.35" />
<text transform="translate(34.60,617.79) scale(1,1.05)" font-size="7.9" font-weight="bold" font-style="normal" text-anchor="end" fill="#111" stroke="#111" stroke-width="0.22" >0.03</text>
<line x1="35.40" y1="596.00" x2="37.90" y2="596.00" stroke="#111" stroke-width="1.35" />
<text transform="translate(34.60,599.19) scale(1,1.05)" font-size="7.9" font-weight="bold" font-style="normal" text-anchor="end" fill="#111" stroke="#111" stroke-width="0.22" >0.04</text>
<line x1="37.90" y1="670.40" x2="87.30" y2="670.40" stroke="#111" stroke-width="1.35" />
<line x1="50.50" y1="670.40" x2="50.50" y2="672.90" stroke="#111" stroke-width="1.1" />
<line x1="73.40" y1="670.40" x2="73.40" y2="672.90" stroke="#111" stroke-width="1.1" />
<line x1="50.55" y1="663.80" x2="50.55" y2="665.80" stroke="#111" stroke-width="1.3" />
<line x1="45.55" y1="663.80" x2="55.55" y2="663.80" stroke="#111" stroke-width="1.3" />
<rect x="40.25" y="666.45" width="20.60" height="4.60" fill="#fff" stroke="#111" stroke-width="1.3" />
<line x1="73.40" y1="603.50" x2="73.40" y2="615.20" stroke="#111" stroke-width="1.3" />
<line x1="68.35" y1="603.50" x2="78.45" y2="603.50" stroke="#111" stroke-width="1.3" />
<rect x="63.95" y="615.85" width="18.90" height="55.20" fill="#111" stroke="#111" stroke-width="1.3" />
<text transform="translate(41.90,606.50) scale(1,1.12)" font-size="7.0" font-weight="normal" font-style="normal" text-anchor="start" fill="#333" stroke="#333" stroke-width="0.14" >p≤0.01</text>
<text transform="translate(70.80,577.50) scale(1,1.1)" font-size="8.3" font-weight="bold" font-style="normal" text-anchor="middle" fill="#111" stroke="#111" stroke-width="0.22" >% of HSC in BM</text>
<text transform="translate(14.60,628.4) rotate(-90) scale(1,1.0)" font-size="8" font-weight="bold" text-anchor="middle" fill="#111" stroke="#111" stroke-width="0.22">% of all cells</text>
<line x1="126.60" y1="670.80" x2="126.60" y2="594.80" stroke="#111" stroke-width="1.35" />
<line x1="124.10" y1="670.80" x2="126.60" y2="670.80" stroke="#111" stroke-width="1.35" />
<text transform="translate(123.30,673.99) scale(1,1.05)" font-size="7.9" font-weight="bold" font-style="normal" text-anchor="end" fill="#111" stroke="#111" stroke-width="0.22" >0</text>
<line x1="124.10" y1="655.68" x2="126.60" y2="655.68" stroke="#111" stroke-width="1.35" />
<text transform="translate(123.30,658.87) scale(1,1.05)" font-size="7.9" font-weight="bold" font-style="normal" text-anchor="end" fill="#111" stroke="#111" stroke-width="0.22" >20</text>
<line x1="124.10" y1="640.56" x2="126.60" y2="640.56" stroke="#111" stroke-width="1.35" />
<text transform="translate(123.30,643.75) scale(1,1.05)" font-size="7.9" font-weight="bold" font-style="normal" text-anchor="end" fill="#111" stroke="#111" stroke-width="0.22" >40</text>
<line x1="124.10" y1="625.44" x2="126.60" y2="625.44" stroke="#111" stroke-width="1.35" />
<text transform="translate(123.30,628.63) scale(1,1.05)" font-size="7.9" font-weight="bold" font-style="normal" text-anchor="end" fill="#111" stroke="#111" stroke-width="0.22" >60</text>
<line x1="124.10" y1="610.32" x2="126.60" y2="610.32" stroke="#111" stroke-width="1.35" />
<text transform="translate(123.30,613.51) scale(1,1.05)" font-size="7.9" font-weight="bold" font-style="normal" text-anchor="end" fill="#111" stroke="#111" stroke-width="0.22" >80</text>
<line x1="124.10" y1="595.20" x2="126.60" y2="595.20" stroke="#111" stroke-width="1.35" />
<text transform="translate(123.30,598.39) scale(1,1.05)" font-size="7.9" font-weight="bold" font-style="normal" text-anchor="end" fill="#111" stroke="#111" stroke-width="0.22" >100</text>
<line x1="126.60" y1="670.80" x2="176.50" y2="670.80" stroke="#111" stroke-width="1.35" />
<line x1="139.50" y1="670.80" x2="139.50" y2="673.30" stroke="#111" stroke-width="1.1" />
<line x1="164.50" y1="670.80" x2="164.50" y2="673.30" stroke="#111" stroke-width="1.1" />
<line x1="139.50" y1="628.10" x2="139.50" y2="633.30" stroke="#111" stroke-width="1.3" />
<line x1="135.30" y1="628.10" x2="143.70" y2="628.10" stroke="#111" stroke-width="1.3" />
<rect x="131.65" y="633.95" width="15.70" height="37.50" fill="#fff" stroke="#111" stroke-width="1.3" />
<line x1="164.55" y1="599.20" x2="164.55" y2="601.50" stroke="#111" stroke-width="1.3" />
<line x1="159.95" y1="599.20" x2="169.15" y2="599.20" stroke="#111" stroke-width="1.3" />
<rect x="156.65" y="602.15" width="15.80" height="69.30" fill="#111" stroke="#111" stroke-width="1.3" />
<text transform="translate(129.80,606.20) scale(1,1.12)" font-size="7.0" font-weight="normal" font-style="normal" text-anchor="start" fill="#333" stroke="#333" stroke-width="0.14" >p≤0.01</text>
<text transform="translate(157.40,576.80) scale(1,1.1)" font-size="8.3" font-weight="bold" font-style="normal" text-anchor="middle" fill="#111" stroke="#111" stroke-width="0.22" >% of CD45.2<tspan font-size="4.6" dy="-2.4">+</tspan></text>
<text transform="translate(157.10,586.60) scale(1,1.1)" font-size="8.3" font-weight="bold" font-style="normal" text-anchor="middle" fill="#111" stroke="#111" stroke-width="0.22" >HSC in BM</text>
<line x1="222.80" y1="670.40" x2="222.80" y2="594.80" stroke="#111" stroke-width="1.35" />
<line x1="220.30" y1="670.40" x2="222.80" y2="670.40" stroke="#111" stroke-width="1.35" />
<text transform="translate(219.50,673.59) scale(1,1.05)" font-size="7.9" font-weight="bold" font-style="normal" text-anchor="end" fill="#111" stroke="#111" stroke-width="0.22" >0.000</text>
<line x1="220.30" y1="655.36" x2="222.80" y2="655.36" stroke="#111" stroke-width="1.35" />
<text transform="translate(219.50,658.55) scale(1,1.05)" font-size="7.9" font-weight="bold" font-style="normal" text-anchor="end" fill="#111" stroke="#111" stroke-width="0.22" >0.002</text>
<line x1="220.30" y1="640.32" x2="222.80" y2="640.32" stroke="#111" stroke-width="1.35" />
<text transform="translate(219.50,643.51) scale(1,1.05)" font-size="7.9" font-weight="bold" font-style="normal" text-anchor="end" fill="#111" stroke="#111" stroke-width="0.22" >0.004</text>
<line x1="220.30" y1="625.28" x2="222.80" y2="625.28" stroke="#111" stroke-width="1.35" />
<text transform="translate(219.50,628.47) scale(1,1.05)" font-size="7.9" font-weight="bold" font-style="normal" text-anchor="end" fill="#111" stroke="#111" stroke-width="0.22" >0.006</text>
<line x1="220.30" y1="610.24" x2="222.80" y2="610.24" stroke="#111" stroke-width="1.35" />
<text transform="translate(219.50,613.43) scale(1,1.05)" font-size="7.9" font-weight="bold" font-style="normal" text-anchor="end" fill="#111" stroke="#111" stroke-width="0.22" >0.008</text>
<line x1="220.30" y1="595.20" x2="222.80" y2="595.20" stroke="#111" stroke-width="1.35" />
<text transform="translate(219.50,598.39) scale(1,1.05)" font-size="7.9" font-weight="bold" font-style="normal" text-anchor="end" fill="#111" stroke="#111" stroke-width="0.22" >0.010</text>
<line x1="222.80" y1="670.40" x2="272.30" y2="670.40" stroke="#111" stroke-width="1.35" />
<line x1="235.20" y1="670.40" x2="235.20" y2="672.90" stroke="#111" stroke-width="1.1" />
<line x1="260.50" y1="670.40" x2="260.50" y2="672.90" stroke="#111" stroke-width="1.1" />
<rect x="226.65" y="670.65" width="16.70" height="0.40" fill="#fff" stroke="#111" stroke-width="1.3" />
<line x1="260.50" y1="603.30" x2="260.50" y2="625.50" stroke="#111" stroke-width="1.3" />
<line x1="256.00" y1="603.30" x2="265.00" y2="603.30" stroke="#111" stroke-width="1.3" />
<rect x="252.65" y="626.15" width="15.70" height="44.90" fill="#111" stroke="#111" stroke-width="1.3" />
<text transform="translate(227.80,606.20) scale(1,1.12)" font-size="7.0" font-weight="normal" font-style="normal" text-anchor="start" fill="#333" stroke="#333" stroke-width="0.14" >p≤0.04</text>
<text transform="translate(248.70,576.70) scale(1,1.1)" font-size="8.3" font-weight="bold" font-style="normal" text-anchor="middle" fill="#111" stroke="#111" stroke-width="0.22" >% of HSC in blood</text>
<text transform="translate(191.20,628.4) rotate(-90) scale(1,1.0)" font-size="8" font-weight="bold" text-anchor="middle" fill="#111" stroke="#111" stroke-width="0.22">% of all cells</text>
<line x1="313.50" y1="671.00" x2="313.50" y2="589.80" stroke="#111" stroke-width="1.35" />
<line x1="311.00" y1="671.00" x2="313.50" y2="671.00" stroke="#111" stroke-width="1.35" />
<text transform="translate(310.20,674.19) scale(1,1.05)" font-size="7.9" font-weight="bold" font-style="normal" text-anchor="end" fill="#111" stroke="#111" stroke-width="0.22" >0</text>
<line x1="311.00" y1="654.84" x2="313.50" y2="654.84" stroke="#111" stroke-width="1.35" />
<text transform="translate(310.20,658.03) scale(1,1.05)" font-size="7.9" font-weight="bold" font-style="normal" text-anchor="end" fill="#111" stroke="#111" stroke-width="0.22" >20</text>
<line x1="311.00" y1="638.68" x2="313.50" y2="638.68" stroke="#111" stroke-width="1.35" />
<text transform="translate(310.20,641.87) scale(1,1.05)" font-size="7.9" font-weight="bold" font-style="normal" text-anchor="end" fill="#111" stroke="#111" stroke-width="0.22" >40</text>
<line x1="311.00" y1="622.52" x2="313.50" y2="622.52" stroke="#111" stroke-width="1.35" />
<text transform="translate(310.20,625.71) scale(1,1.05)" font-size="7.9" font-weight="bold" font-style="normal" text-anchor="end" fill="#111" stroke="#111" stroke-width="0.22" >60</text>
<line x1="311.00" y1="606.36" x2="313.50" y2="606.36" stroke="#111" stroke-width="1.35" />
<text transform="translate(310.20,609.55) scale(1,1.05)" font-size="7.9" font-weight="bold" font-style="normal" text-anchor="end" fill="#111" stroke="#111" stroke-width="0.22" >80</text>
<line x1="311.00" y1="590.20" x2="313.50" y2="590.20" stroke="#111" stroke-width="1.35" />
<text transform="translate(310.20,593.39) scale(1,1.05)" font-size="7.9" font-weight="bold" font-style="normal" text-anchor="end" fill="#111" stroke="#111" stroke-width="0.22" >100</text>
<line x1="313.50" y1="671.00" x2="368.00" y2="671.00" stroke="#111" stroke-width="1.35" />
<line x1="327.50" y1="671.00" x2="327.50" y2="673.50" stroke="#111" stroke-width="1.1" />
<line x1="354.60" y1="671.00" x2="354.60" y2="673.50" stroke="#111" stroke-width="1.1" />
<line x1="327.50" y1="630.60" x2="327.50" y2="651.00" stroke="#111" stroke-width="1.3" />
<line x1="322.65" y1="630.60" x2="332.35" y2="630.60" stroke="#111" stroke-width="1.3" />
<rect x="319.05" y="651.65" width="16.90" height="20.00" fill="#fff" stroke="#111" stroke-width="1.3" />
<line x1="354.60" y1="592.80" x2="354.60" y2="594.00" stroke="#111" stroke-width="1.3" />
<line x1="349.85" y1="592.80" x2="359.35" y2="592.80" stroke="#111" stroke-width="1.3" />
<rect x="345.85" y="594.65" width="17.50" height="77.00" fill="#111" stroke="#111" stroke-width="1.3" />
<text transform="translate(317.00,606.30) scale(1,1.12)" font-size="7.0" font-weight="normal" font-style="normal" text-anchor="start" fill="#333" stroke="#333" stroke-width="0.14" >p≤0.04</text>
<text transform="translate(340.60,576.90) scale(1,1.1)" font-size="8.3" font-weight="bold" font-style="normal" text-anchor="middle" fill="#111" stroke="#111" stroke-width="0.22" >% of CD45.2<tspan font-size="4.6" dy="-2.4">+</tspan></text>
<text transform="translate(345.00,586.80) scale(1,1.1)" font-size="8.3" font-weight="bold" font-style="normal" text-anchor="middle" fill="#111" stroke="#111" stroke-width="0.22" >HSC in blood</text>
<line x1="409.50" y1="670.90" x2="409.50" y2="589.20" stroke="#111" stroke-width="1.35" />
<line x1="407.00" y1="670.90" x2="409.50" y2="670.90" stroke="#111" stroke-width="1.35" />
<text transform="translate(406.20,674.09) scale(1,1.05)" font-size="7.9" font-weight="bold" font-style="normal" text-anchor="end" fill="#111" stroke="#111" stroke-width="0.22" >0</text>
<line x1="407.00" y1="654.64" x2="409.50" y2="654.64" stroke="#111" stroke-width="1.35" />
<text transform="translate(406.20,657.83) scale(1,1.05)" font-size="7.9" font-weight="bold" font-style="normal" text-anchor="end" fill="#111" stroke="#111" stroke-width="0.22" >20</text>
<line x1="407.00" y1="638.38" x2="409.50" y2="638.38" stroke="#111" stroke-width="1.35" />
<text transform="translate(406.20,641.57) scale(1,1.05)" font-size="7.9" font-weight="bold" font-style="normal" text-anchor="end" fill="#111" stroke="#111" stroke-width="0.22" >40</text>
<line x1="407.00" y1="622.12" x2="409.50" y2="622.12" stroke="#111" stroke-width="1.35" />
<text transform="translate(406.20,625.31) scale(1,1.05)" font-size="7.9" font-weight="bold" font-style="normal" text-anchor="end" fill="#111" stroke="#111" stroke-width="0.22" >60</text>
<line x1="407.00" y1="605.86" x2="409.50" y2="605.86" stroke="#111" stroke-width="1.35" />
<text transform="translate(406.20,609.05) scale(1,1.05)" font-size="7.9" font-weight="bold" font-style="normal" text-anchor="end" fill="#111" stroke="#111" stroke-width="0.22" >80</text>
<line x1="407.00" y1="589.60" x2="409.50" y2="589.60" stroke="#111" stroke-width="1.35" />
<text transform="translate(406.20,592.79) scale(1,1.05)" font-size="7.9" font-weight="bold" font-style="normal" text-anchor="end" fill="#111" stroke="#111" stroke-width="0.22" >100</text>
<line x1="409.50" y1="670.90" x2="464.30" y2="670.90" stroke="#111" stroke-width="1.35" />
<line x1="423.20" y1="670.90" x2="423.20" y2="673.40" stroke="#111" stroke-width="1.1" />
<line x1="450.40" y1="670.90" x2="450.40" y2="673.40" stroke="#111" stroke-width="1.1" />
<line x1="423.15" y1="620.70" x2="423.15" y2="627.80" stroke="#111" stroke-width="1.3" />
<line x1="418.95" y1="620.70" x2="427.35" y2="620.70" stroke="#111" stroke-width="1.3" />
<rect x="414.35" y="628.45" width="17.60" height="43.10" fill="#fff" stroke="#111" stroke-width="1.3" />
<line x1="450.40" y1="594.80" x2="450.40" y2="595.80" stroke="#111" stroke-width="1.3" />
<line x1="445.60" y1="594.80" x2="455.20" y2="594.80" stroke="#111" stroke-width="1.3" />
<rect x="441.95" y="596.45" width="16.90" height="75.10" fill="#111" stroke="#111" stroke-width="1.3" />
<text transform="translate(413.70,606.50) scale(1,1.12)" font-size="7.0" font-weight="normal" font-style="normal" text-anchor="start" fill="#333" stroke="#333" stroke-width="0.14" >p≤0.01</text>
<text transform="translate(442.60,576.80) scale(1,1.1)" font-size="8.3" font-weight="bold" font-style="normal" text-anchor="middle" fill="#111" stroke="#111" stroke-width="0.22" >% of CD45.2<tspan font-size="4.6" dy="-2.4">+</tspan><tspan dy="2.4">&#160;&#160;LSK&#160;&#160;in</tspan></text>
<text transform="translate(443.30,586.80) scale(1,1.1)" font-size="8.3" font-weight="bold" font-style="normal" text-anchor="middle" fill="#111" stroke="#111" stroke-width="0.22" >bone marrow</text>
</svg></body></html>
